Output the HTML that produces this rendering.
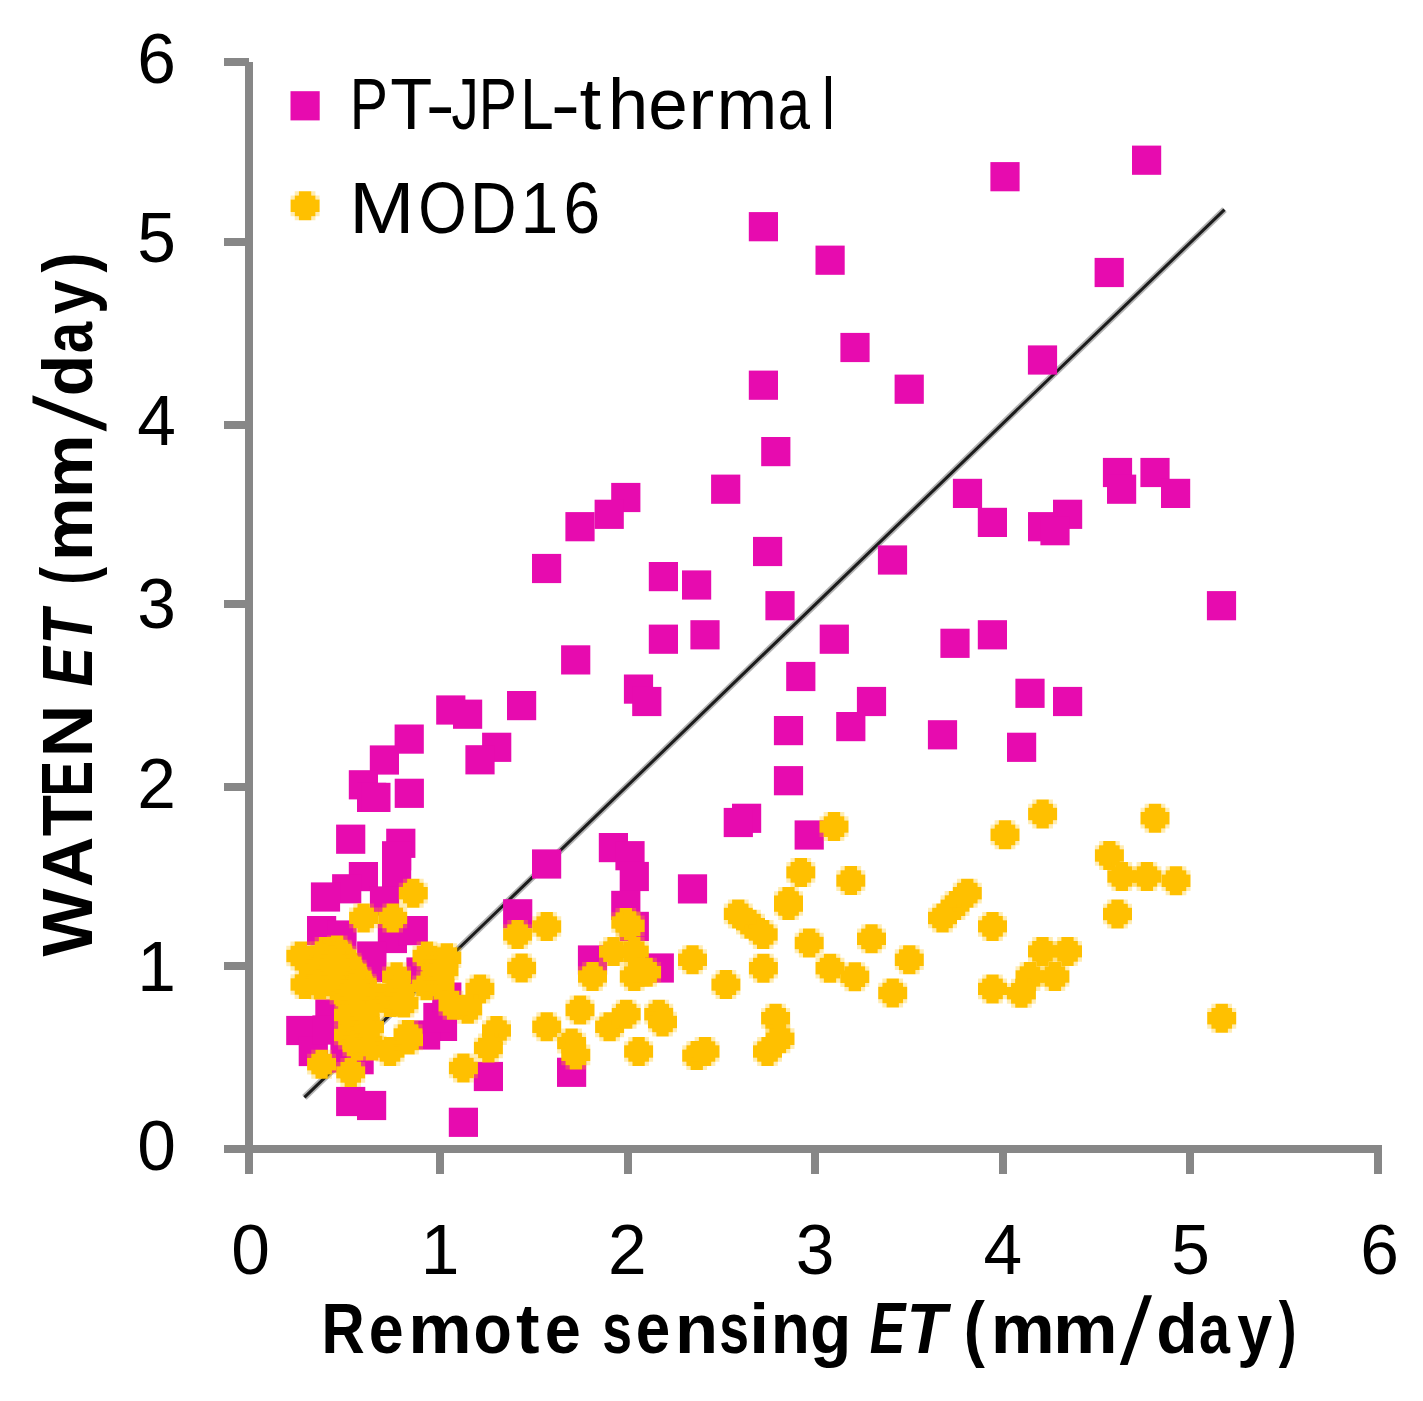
<!DOCTYPE html>
<html><head><meta charset="utf-8"><title>Scatter</title>
<style>
html,body{margin:0;padding:0;background:#fff;}
body{width:1423px;height:1401px;overflow:hidden;font-family:"Liberation Sans",sans-serif;}
svg{display:block;}
</style></head><body>
<svg width="1423" height="1401" viewBox="0 0 1423 1401">
<rect width="1423" height="1401" fill="#fff"/>
<g fill="#878787"><rect x="245" y="62" width="8" height="1091"/><rect x="224" y="1145" width="1158" height="8"/><rect x="224" y="962" width="25" height="8"/><rect x="224" y="783" width="25" height="8"/><rect x="224" y="600" width="25" height="8"/><rect x="224" y="421" width="25" height="8"/><rect x="224" y="238" width="25" height="8"/><rect x="224" y="58" width="25" height="8"/><rect x="245" y="1149" width="8" height="25"/><rect x="436" y="1149" width="8" height="25"/><rect x="624" y="1149" width="8" height="25"/><rect x="811" y="1149" width="8" height="25"/><rect x="999" y="1149" width="8" height="25"/><rect x="1186" y="1149" width="8" height="25"/><rect x="1374" y="1149" width="8" height="25"/></g>
<g><line x1="304.4" y1="1097.4" x2="1224.5" y2="209.6" stroke="#b4b4b4" stroke-width="6.5"/><line x1="304.4" y1="1097.4" x2="1224.5" y2="209.6" stroke="#1c1c1c" stroke-width="3"/></g>
<g fill="#E70BAF"><rect x="990.4" y="162.1" width="29.2" height="29.2"/><rect x="1132" y="145.6" width="29.2" height="29.2"/><rect x="748.8" y="212.1" width="29.2" height="29.2"/><rect x="815.5" y="245.6" width="29.2" height="29.2"/><rect x="1094.6" y="257.9" width="29.2" height="29.2"/><rect x="840.4" y="332.9" width="29.2" height="29.2"/><rect x="1027.9" y="345.4" width="29.2" height="29.2"/><rect x="748.8" y="370.6" width="29.2" height="29.2"/><rect x="894.6" y="374.6" width="29.2" height="29.2"/><rect x="761.2" y="437" width="29.2" height="29.2"/><rect x="711.1" y="474.6" width="29.2" height="29.2"/><rect x="952.9" y="478.8" width="29.2" height="29.2"/><rect x="1102.9" y="457.9" width="29.2" height="29.2"/><rect x="1107" y="474.6" width="29.2" height="29.2"/><rect x="1140.4" y="457.9" width="29.2" height="29.2"/><rect x="1161" y="478.8" width="29.2" height="29.2"/><rect x="1053" y="499.7" width="29.2" height="29.2"/><rect x="1028" y="512.1" width="29.2" height="29.2"/><rect x="1040.4" y="516.1" width="29.2" height="29.2"/><rect x="977.8" y="507.8" width="29.2" height="29.2"/><rect x="1206.9" y="591.1" width="29.2" height="29.2"/><rect x="977.8" y="620.2" width="29.2" height="29.2"/><rect x="1015.4" y="678.7" width="29.2" height="29.2"/><rect x="1053" y="686.9" width="29.2" height="29.2"/><rect x="753" y="536.9" width="29.2" height="29.2"/><rect x="877.9" y="545.4" width="29.2" height="29.2"/><rect x="682" y="570.4" width="29.2" height="29.2"/><rect x="765.4" y="591.1" width="29.2" height="29.2"/><rect x="690.4" y="620.2" width="29.2" height="29.2"/><rect x="819.7" y="624.6" width="29.2" height="29.2"/><rect x="940.4" y="628.7" width="29.2" height="29.2"/><rect x="786.2" y="661.9" width="29.2" height="29.2"/><rect x="856.9" y="686.9" width="29.2" height="29.2"/><rect x="611.2" y="482.9" width="29.2" height="29.2"/><rect x="594.6" y="499.7" width="29.2" height="29.2"/><rect x="565.4" y="512.1" width="29.2" height="29.2"/><rect x="532" y="553.9" width="29.2" height="29.2"/><rect x="648.8" y="562" width="29.2" height="29.2"/><rect x="648.8" y="624.6" width="29.2" height="29.2"/><rect x="561.1" y="645.3" width="29.2" height="29.2"/><rect x="623.9" y="674.5" width="29.2" height="29.2"/><rect x="632.2" y="686.9" width="29.2" height="29.2"/><rect x="507" y="691" width="29.2" height="29.2"/><rect x="436.2" y="695.4" width="29.2" height="29.2"/><rect x="453" y="699.6" width="29.2" height="29.2"/><rect x="394.6" y="724.5" width="29.2" height="29.2"/><rect x="482.1" y="732.7" width="29.2" height="29.2"/><rect x="465.4" y="745.2" width="29.2" height="29.2"/><rect x="369.8" y="745.4" width="29.2" height="29.2"/><rect x="348.8" y="770.2" width="29.2" height="29.2"/><rect x="357" y="782.8" width="29.2" height="29.2"/><rect x="361.3" y="782.8" width="29.2" height="29.2"/><rect x="394.7" y="778.7" width="29.2" height="29.2"/><rect x="336.1" y="824.6" width="29.2" height="29.2"/><rect x="386.2" y="828.7" width="29.2" height="29.2"/><rect x="382" y="841.2" width="29.2" height="29.2"/><rect x="382" y="858" width="29.2" height="29.2"/><rect x="348.8" y="862" width="29.2" height="29.2"/><rect x="332.1" y="874.2" width="29.2" height="29.2"/><rect x="310.9" y="882.4" width="29.2" height="29.2"/><rect x="307" y="916" width="29.2" height="29.2"/><rect x="327.4" y="920.4" width="29.2" height="29.2"/><rect x="377.8" y="923.9" width="29.2" height="29.2"/><rect x="398.7" y="916" width="29.2" height="29.2"/><rect x="357.1" y="952.9" width="29.2" height="29.2"/><rect x="532" y="849.4" width="29.2" height="29.2"/><rect x="598.8" y="833" width="29.2" height="29.2"/><rect x="615.4" y="841.1" width="29.2" height="29.2"/><rect x="619.7" y="861.9" width="29.2" height="29.2"/><rect x="611.2" y="890.8" width="29.2" height="29.2"/><rect x="619.7" y="911.8" width="29.2" height="29.2"/><rect x="677.9" y="874.3" width="29.2" height="29.2"/><rect x="503.1" y="899.2" width="29.2" height="29.2"/><rect x="577.9" y="945.4" width="29.2" height="29.2"/><rect x="644.7" y="953.4" width="29.2" height="29.2"/><rect x="836.2" y="712" width="29.2" height="29.2"/><rect x="773.9" y="716" width="29.2" height="29.2"/><rect x="927.9" y="720.2" width="29.2" height="29.2"/><rect x="773.9" y="766.1" width="29.2" height="29.2"/><rect x="732" y="803.7" width="29.2" height="29.2"/><rect x="723.7" y="807.9" width="29.2" height="29.2"/><rect x="794.6" y="820.4" width="29.2" height="29.2"/><rect x="1007" y="732.7" width="29.2" height="29.2"/><rect x="286.2" y="1015.9" width="29.2" height="29.2"/><rect x="315.3" y="999.3" width="29.2" height="29.2"/><rect x="298.7" y="1036.9" width="29.2" height="29.2"/><rect x="427.9" y="1011.8" width="29.2" height="29.2"/><rect x="411" y="1020.4" width="29.2" height="29.2"/><rect x="423.3" y="1002.9" width="29.2" height="29.2"/><rect x="344.5" y="1045.1" width="29.2" height="29.2"/><rect x="336.1" y="1086.9" width="29.2" height="29.2"/><rect x="357" y="1090.9" width="29.2" height="29.2"/><rect x="448.8" y="1107.7" width="29.2" height="29.2"/><rect x="473.8" y="1061.9" width="29.2" height="29.2"/><rect x="557" y="1057.7" width="29.2" height="29.2"/><rect x="432.2" y="982.5" width="29.2" height="29.2"/><rect x="406.4" y="957.4" width="29.2" height="29.2"/><rect x="330.4" y="1043.4" width="29.2" height="29.2"/><rect x="369.9" y="886.4" width="29.2" height="29.2"/><rect x="357.1" y="941.4" width="29.2" height="29.2"/><rect x="312.4" y="1015.4" width="29.2" height="29.2"/></g>
<g fill="#FFC000"><path d="M1036.39 799.5 1048.81 799.5 1048.81 803.64 1052.96 803.64 1052.96 807.79 1057.1 807.79 1057.1 820.21 1052.96 820.21 1052.96 824.36 1048.81 824.36 1048.81 828.5 1036.39 828.5 1036.39 824.36 1032.24 824.36 1032.24 820.21 1028.1 820.21 1028.1 807.79 1032.24 807.79 1032.24 803.64 1036.39 803.64Z"/><path d="M1032.24 799.5h4.14v4.14h-4.14ZM1048.81 799.5h4.14v4.14h-4.14ZM1028.1 803.64h4.14v4.14h-4.14ZM1052.96 803.64h4.14v4.14h-4.14ZM1028.1 820.21h4.14v4.14h-4.14ZM1052.96 820.21h4.14v4.14h-4.14ZM1032.24 824.36h4.14v4.14h-4.14ZM1048.81 824.36h4.14v4.14h-4.14Z" fill-opacity="0.3"/><path d="M1148.79 803.7 1161.21 803.7 1161.21 807.84 1165.36 807.84 1165.36 811.99 1169.5 811.99 1169.5 824.41 1165.36 824.41 1165.36 828.56 1161.21 828.56 1161.21 832.7 1148.79 832.7 1148.79 828.56 1144.64 828.56 1144.64 824.41 1140.5 824.41 1140.5 811.99 1144.64 811.99 1144.64 807.84 1148.79 807.84Z"/><path d="M1144.64 803.7h4.14v4.14h-4.14ZM1161.21 803.7h4.14v4.14h-4.14ZM1140.5 807.84h4.14v4.14h-4.14ZM1165.36 807.84h4.14v4.14h-4.14ZM1140.5 824.41h4.14v4.14h-4.14ZM1165.36 824.41h4.14v4.14h-4.14ZM1144.64 828.56h4.14v4.14h-4.14ZM1161.21 828.56h4.14v4.14h-4.14Z" fill-opacity="0.3"/><path d="M948.79 891.1 961.21 891.1 961.21 895.24 965.36 895.24 965.36 899.39 969.5 899.39 969.5 911.81 965.36 911.81 965.36 915.96 961.21 915.96 961.21 920.1 948.79 920.1 948.79 915.96 944.64 915.96 944.64 911.81 940.5 911.81 940.5 899.39 944.64 899.39 944.64 895.24 948.79 895.24Z"/><path d="M944.64 891.1h4.14v4.14h-4.14ZM961.21 891.1h4.14v4.14h-4.14ZM940.5 895.24h4.14v4.14h-4.14ZM965.36 895.24h4.14v4.14h-4.14ZM940.5 911.81h4.14v4.14h-4.14ZM965.36 911.81h4.14v4.14h-4.14ZM944.64 915.96h4.14v4.14h-4.14ZM961.21 915.96h4.14v4.14h-4.14Z" fill-opacity="0.3"/><path d="M744.29 909.7 756.71 909.7 756.71 913.84 760.86 913.84 760.86 917.99 765 917.99 765 930.41 760.86 930.41 760.86 934.56 756.71 934.56 756.71 938.7 744.29 938.7 744.29 934.56 740.14 934.56 740.14 930.41 736 930.41 736 917.99 740.14 917.99 740.14 913.84 744.29 913.84Z"/><path d="M740.14 909.7h4.14v4.14h-4.14ZM756.71 909.7h4.14v4.14h-4.14ZM736 913.84h4.14v4.14h-4.14ZM760.86 913.84h4.14v4.14h-4.14ZM736 930.41h4.14v4.14h-4.14ZM760.86 930.41h4.14v4.14h-4.14ZM740.14 934.56h4.14v4.14h-4.14ZM756.71 934.56h4.14v4.14h-4.14Z" fill-opacity="0.3"/><path d="M998.79 820.3 1011.21 820.3 1011.21 824.44 1015.36 824.44 1015.36 828.59 1019.5 828.59 1019.5 841.01 1015.36 841.01 1015.36 845.16 1011.21 845.16 1011.21 849.3 998.79 849.3 998.79 845.16 994.64 845.16 994.64 841.01 990.5 841.01 990.5 828.59 994.64 828.59 994.64 824.44 998.79 824.44Z"/><path d="M994.64 820.3h4.14v4.14h-4.14ZM1011.21 820.3h4.14v4.14h-4.14ZM990.5 824.44h4.14v4.14h-4.14ZM1015.36 824.44h4.14v4.14h-4.14ZM990.5 841.01h4.14v4.14h-4.14ZM1015.36 841.01h4.14v4.14h-4.14ZM994.64 845.16h4.14v4.14h-4.14ZM1011.21 845.16h4.14v4.14h-4.14Z" fill-opacity="0.3"/><path d="M1103.19 841 1115.61 841 1115.61 845.14 1119.76 845.14 1119.76 849.29 1123.9 849.29 1123.9 861.71 1119.76 861.71 1119.76 865.86 1115.61 865.86 1115.61 870 1103.19 870 1103.19 865.86 1099.04 865.86 1099.04 861.71 1094.9 861.71 1094.9 849.29 1099.04 849.29 1099.04 845.14 1103.19 845.14Z"/><path d="M1099.04 841h4.14v4.14h-4.14ZM1115.61 841h4.14v4.14h-4.14ZM1094.9 845.14h4.14v4.14h-4.14ZM1119.76 845.14h4.14v4.14h-4.14ZM1094.9 861.71h4.14v4.14h-4.14ZM1119.76 861.71h4.14v4.14h-4.14ZM1099.04 865.86h4.14v4.14h-4.14ZM1115.61 865.86h4.14v4.14h-4.14Z" fill-opacity="0.3"/><path d="M1115.59 862 1128.01 862 1128.01 866.14 1132.16 866.14 1132.16 870.29 1136.3 870.29 1136.3 882.71 1132.16 882.71 1132.16 886.86 1128.01 886.86 1128.01 891 1115.59 891 1115.59 886.86 1111.44 886.86 1111.44 882.71 1107.3 882.71 1107.3 870.29 1111.44 870.29 1111.44 866.14 1115.59 866.14Z"/><path d="M1111.44 862h4.14v4.14h-4.14ZM1128.01 862h4.14v4.14h-4.14ZM1107.3 866.14h4.14v4.14h-4.14ZM1132.16 866.14h4.14v4.14h-4.14ZM1107.3 882.71h4.14v4.14h-4.14ZM1132.16 882.71h4.14v4.14h-4.14ZM1111.44 886.86h4.14v4.14h-4.14ZM1128.01 886.86h4.14v4.14h-4.14Z" fill-opacity="0.3"/><path d="M1140.69 862 1153.11 862 1153.11 866.14 1157.26 866.14 1157.26 870.29 1161.4 870.29 1161.4 882.71 1157.26 882.71 1157.26 886.86 1153.11 886.86 1153.11 891 1140.69 891 1140.69 886.86 1136.54 886.86 1136.54 882.71 1132.4 882.71 1132.4 870.29 1136.54 870.29 1136.54 866.14 1140.69 866.14Z"/><path d="M1136.54 862h4.14v4.14h-4.14ZM1153.11 862h4.14v4.14h-4.14ZM1132.4 866.14h4.14v4.14h-4.14ZM1157.26 866.14h4.14v4.14h-4.14ZM1132.4 882.71h4.14v4.14h-4.14ZM1157.26 882.71h4.14v4.14h-4.14ZM1136.54 886.86h4.14v4.14h-4.14ZM1153.11 886.86h4.14v4.14h-4.14Z" fill-opacity="0.3"/><path d="M1169.79 866.2 1182.21 866.2 1182.21 870.34 1186.36 870.34 1186.36 874.49 1190.5 874.49 1190.5 886.91 1186.36 886.91 1186.36 891.06 1182.21 891.06 1182.21 895.2 1169.79 895.2 1169.79 891.06 1165.64 891.06 1165.64 886.91 1161.5 886.91 1161.5 874.49 1165.64 874.49 1165.64 870.34 1169.79 870.34Z"/><path d="M1165.64 866.2h4.14v4.14h-4.14ZM1182.21 866.2h4.14v4.14h-4.14ZM1161.5 870.34h4.14v4.14h-4.14ZM1186.36 870.34h4.14v4.14h-4.14ZM1161.5 886.91h4.14v4.14h-4.14ZM1186.36 886.91h4.14v4.14h-4.14ZM1165.64 891.06h4.14v4.14h-4.14ZM1182.21 891.06h4.14v4.14h-4.14Z" fill-opacity="0.3"/><path d="M961.09 878.7 973.51 878.7 973.51 882.84 977.66 882.84 977.66 886.99 981.8 886.99 981.8 899.41 977.66 899.41 977.66 903.56 973.51 903.56 973.51 907.7 961.09 907.7 961.09 903.56 956.94 903.56 956.94 899.41 952.8 899.41 952.8 886.99 956.94 886.99 956.94 882.84 961.09 882.84Z"/><path d="M956.94 878.7h4.14v4.14h-4.14ZM973.51 878.7h4.14v4.14h-4.14ZM952.8 882.84h4.14v4.14h-4.14ZM977.66 882.84h4.14v4.14h-4.14ZM952.8 899.41h4.14v4.14h-4.14ZM977.66 899.41h4.14v4.14h-4.14ZM956.94 903.56h4.14v4.14h-4.14ZM973.51 903.56h4.14v4.14h-4.14Z" fill-opacity="0.3"/><path d="M936.29 903.5 948.71 903.5 948.71 907.64 952.86 907.64 952.86 911.79 957 911.79 957 924.21 952.86 924.21 952.86 928.36 948.71 928.36 948.71 932.5 936.29 932.5 936.29 928.36 932.14 928.36 932.14 924.21 928 924.21 928 911.79 932.14 911.79 932.14 907.64 936.29 907.64Z"/><path d="M932.14 903.5h4.14v4.14h-4.14ZM948.71 903.5h4.14v4.14h-4.14ZM928 907.64h4.14v4.14h-4.14ZM952.86 907.64h4.14v4.14h-4.14ZM928 924.21h4.14v4.14h-4.14ZM952.86 924.21h4.14v4.14h-4.14ZM932.14 928.36h4.14v4.14h-4.14ZM948.71 928.36h4.14v4.14h-4.14Z" fill-opacity="0.3"/><path d="M1111.29 899.5 1123.71 899.5 1123.71 903.64 1127.86 903.64 1127.86 907.79 1132 907.79 1132 920.21 1127.86 920.21 1127.86 924.36 1123.71 924.36 1123.71 928.5 1111.29 928.5 1111.29 924.36 1107.14 924.36 1107.14 920.21 1103 920.21 1103 907.79 1107.14 907.79 1107.14 903.64 1111.29 903.64Z"/><path d="M1107.14 899.5h4.14v4.14h-4.14ZM1123.71 899.5h4.14v4.14h-4.14ZM1103 903.64h4.14v4.14h-4.14ZM1127.86 903.64h4.14v4.14h-4.14ZM1103 920.21h4.14v4.14h-4.14ZM1127.86 920.21h4.14v4.14h-4.14ZM1107.14 924.36h4.14v4.14h-4.14ZM1123.71 924.36h4.14v4.14h-4.14Z" fill-opacity="0.3"/><path d="M986.29 911.9 998.71 911.9 998.71 916.04 1002.86 916.04 1002.86 920.19 1007 920.19 1007 932.61 1002.86 932.61 1002.86 936.76 998.71 936.76 998.71 940.9 986.29 940.9 986.29 936.76 982.14 936.76 982.14 932.61 978 932.61 978 920.19 982.14 920.19 982.14 916.04 986.29 916.04Z"/><path d="M982.14 911.9h4.14v4.14h-4.14ZM998.71 911.9h4.14v4.14h-4.14ZM978 916.04h4.14v4.14h-4.14ZM1002.86 916.04h4.14v4.14h-4.14ZM978 932.61h4.14v4.14h-4.14ZM1002.86 932.61h4.14v4.14h-4.14ZM982.14 936.76h4.14v4.14h-4.14ZM998.71 936.76h4.14v4.14h-4.14Z" fill-opacity="0.3"/><path d="M1036.29 936.9 1048.71 936.9 1048.71 941.04 1052.86 941.04 1052.86 945.19 1057 945.19 1057 957.61 1052.86 957.61 1052.86 961.76 1048.71 961.76 1048.71 965.9 1036.29 965.9 1036.29 961.76 1032.14 961.76 1032.14 957.61 1028 957.61 1028 945.19 1032.14 945.19 1032.14 941.04 1036.29 941.04Z"/><path d="M1032.14 936.9h4.14v4.14h-4.14ZM1048.71 936.9h4.14v4.14h-4.14ZM1028 941.04h4.14v4.14h-4.14ZM1052.86 941.04h4.14v4.14h-4.14ZM1028 957.61h4.14v4.14h-4.14ZM1052.86 957.61h4.14v4.14h-4.14ZM1032.14 961.76h4.14v4.14h-4.14ZM1048.71 961.76h4.14v4.14h-4.14Z" fill-opacity="0.3"/><path d="M1061.29 936.9 1073.71 936.9 1073.71 941.04 1077.86 941.04 1077.86 945.19 1082 945.19 1082 957.61 1077.86 957.61 1077.86 961.76 1073.71 961.76 1073.71 965.9 1061.29 965.9 1061.29 961.76 1057.14 961.76 1057.14 957.61 1053 957.61 1053 945.19 1057.14 945.19 1057.14 941.04 1061.29 941.04Z"/><path d="M1057.14 936.9h4.14v4.14h-4.14ZM1073.71 936.9h4.14v4.14h-4.14ZM1053 941.04h4.14v4.14h-4.14ZM1077.86 941.04h4.14v4.14h-4.14ZM1053 957.61h4.14v4.14h-4.14ZM1077.86 957.61h4.14v4.14h-4.14ZM1057.14 961.76h4.14v4.14h-4.14ZM1073.71 961.76h4.14v4.14h-4.14Z" fill-opacity="0.3"/><path d="M1023.79 962 1036.21 962 1036.21 966.14 1040.36 966.14 1040.36 970.29 1044.5 970.29 1044.5 982.71 1040.36 982.71 1040.36 986.86 1036.21 986.86 1036.21 991 1023.79 991 1023.79 986.86 1019.64 986.86 1019.64 982.71 1015.5 982.71 1015.5 970.29 1019.64 970.29 1019.64 966.14 1023.79 966.14Z"/><path d="M1019.64 962h4.14v4.14h-4.14ZM1036.21 962h4.14v4.14h-4.14ZM1015.5 966.14h4.14v4.14h-4.14ZM1040.36 966.14h4.14v4.14h-4.14ZM1015.5 982.71h4.14v4.14h-4.14ZM1040.36 982.71h4.14v4.14h-4.14ZM1019.64 986.86h4.14v4.14h-4.14ZM1036.21 986.86h4.14v4.14h-4.14Z" fill-opacity="0.3"/><path d="M1048.69 962 1061.11 962 1061.11 966.14 1065.26 966.14 1065.26 970.29 1069.4 970.29 1069.4 982.71 1065.26 982.71 1065.26 986.86 1061.11 986.86 1061.11 991 1048.69 991 1048.69 986.86 1044.54 986.86 1044.54 982.71 1040.4 982.71 1040.4 970.29 1044.54 970.29 1044.54 966.14 1048.69 966.14Z"/><path d="M1044.54 962h4.14v4.14h-4.14ZM1061.11 962h4.14v4.14h-4.14ZM1040.4 966.14h4.14v4.14h-4.14ZM1065.26 966.14h4.14v4.14h-4.14ZM1040.4 982.71h4.14v4.14h-4.14ZM1065.26 982.71h4.14v4.14h-4.14ZM1044.54 986.86h4.14v4.14h-4.14ZM1061.11 986.86h4.14v4.14h-4.14Z" fill-opacity="0.3"/><path d="M986.29 974.4 998.71 974.4 998.71 978.54 1002.86 978.54 1002.86 982.69 1007 982.69 1007 995.11 1002.86 995.11 1002.86 999.26 998.71 999.26 998.71 1003.4 986.29 1003.4 986.29 999.26 982.14 999.26 982.14 995.11 978 995.11 978 982.69 982.14 982.69 982.14 978.54 986.29 978.54Z"/><path d="M982.14 974.4h4.14v4.14h-4.14ZM998.71 974.4h4.14v4.14h-4.14ZM978 978.54h4.14v4.14h-4.14ZM1002.86 978.54h4.14v4.14h-4.14ZM978 995.11h4.14v4.14h-4.14ZM1002.86 995.11h4.14v4.14h-4.14ZM982.14 999.26h4.14v4.14h-4.14ZM998.71 999.26h4.14v4.14h-4.14Z" fill-opacity="0.3"/><path d="M1015.19 978.8 1027.61 978.8 1027.61 982.94 1031.76 982.94 1031.76 987.09 1035.9 987.09 1035.9 999.51 1031.76 999.51 1031.76 1003.66 1027.61 1003.66 1027.61 1007.8 1015.19 1007.8 1015.19 1003.66 1011.04 1003.66 1011.04 999.51 1006.9 999.51 1006.9 987.09 1011.04 987.09 1011.04 982.94 1015.19 982.94Z"/><path d="M1011.04 978.8h4.14v4.14h-4.14ZM1027.61 978.8h4.14v4.14h-4.14ZM1006.9 982.94h4.14v4.14h-4.14ZM1031.76 982.94h4.14v4.14h-4.14ZM1006.9 999.51h4.14v4.14h-4.14ZM1031.76 999.51h4.14v4.14h-4.14ZM1011.04 1003.66h4.14v4.14h-4.14ZM1027.61 1003.66h4.14v4.14h-4.14Z" fill-opacity="0.3"/><path d="M1215.49 1003.8 1227.91 1003.8 1227.91 1007.94 1232.06 1007.94 1232.06 1012.09 1236.2 1012.09 1236.2 1024.51 1232.06 1024.51 1232.06 1028.66 1227.91 1028.66 1227.91 1032.8 1215.49 1032.8 1215.49 1028.66 1211.34 1028.66 1211.34 1024.51 1207.2 1024.51 1207.2 1012.09 1211.34 1012.09 1211.34 1007.94 1215.49 1007.94Z"/><path d="M1211.34 1003.8h4.14v4.14h-4.14ZM1227.91 1003.8h4.14v4.14h-4.14ZM1207.2 1007.94h4.14v4.14h-4.14ZM1232.06 1007.94h4.14v4.14h-4.14ZM1207.2 1024.51h4.14v4.14h-4.14ZM1232.06 1024.51h4.14v4.14h-4.14ZM1211.34 1028.66h4.14v4.14h-4.14ZM1227.91 1028.66h4.14v4.14h-4.14Z" fill-opacity="0.3"/><path d="M827.79 812.1 840.21 812.1 840.21 816.24 844.36 816.24 844.36 820.39 848.5 820.39 848.5 832.81 844.36 832.81 844.36 836.96 840.21 836.96 840.21 841.1 827.79 841.1 827.79 836.96 823.64 836.96 823.64 832.81 819.5 832.81 819.5 820.39 823.64 820.39 823.64 816.24 827.79 816.24Z"/><path d="M823.64 812.1h4.14v4.14h-4.14ZM840.21 812.1h4.14v4.14h-4.14ZM819.5 816.24h4.14v4.14h-4.14ZM844.36 816.24h4.14v4.14h-4.14ZM819.5 832.81h4.14v4.14h-4.14ZM844.36 832.81h4.14v4.14h-4.14ZM823.64 836.96h4.14v4.14h-4.14ZM840.21 836.96h4.14v4.14h-4.14Z" fill-opacity="0.3"/><path d="M794.59 857.9 807.01 857.9 807.01 862.04 811.16 862.04 811.16 866.19 815.3 866.19 815.3 878.61 811.16 878.61 811.16 882.76 807.01 882.76 807.01 886.9 794.59 886.9 794.59 882.76 790.44 882.76 790.44 878.61 786.3 878.61 786.3 866.19 790.44 866.19 790.44 862.04 794.59 862.04Z"/><path d="M790.44 857.9h4.14v4.14h-4.14ZM807.01 857.9h4.14v4.14h-4.14ZM786.3 862.04h4.14v4.14h-4.14ZM811.16 862.04h4.14v4.14h-4.14ZM786.3 878.61h4.14v4.14h-4.14ZM811.16 878.61h4.14v4.14h-4.14ZM790.44 882.76h4.14v4.14h-4.14ZM807.01 882.76h4.14v4.14h-4.14Z" fill-opacity="0.3"/><path d="M844.59 866.1 857.01 866.1 857.01 870.24 861.16 870.24 861.16 874.39 865.3 874.39 865.3 886.81 861.16 886.81 861.16 890.96 857.01 890.96 857.01 895.1 844.59 895.1 844.59 890.96 840.44 890.96 840.44 886.81 836.3 886.81 836.3 874.39 840.44 874.39 840.44 870.24 844.59 870.24Z"/><path d="M840.44 866.1h4.14v4.14h-4.14ZM857.01 866.1h4.14v4.14h-4.14ZM836.3 870.24h4.14v4.14h-4.14ZM861.16 870.24h4.14v4.14h-4.14ZM836.3 886.81h4.14v4.14h-4.14ZM861.16 886.81h4.14v4.14h-4.14ZM840.44 890.96h4.14v4.14h-4.14ZM857.01 890.96h4.14v4.14h-4.14Z" fill-opacity="0.3"/><path d="M782.29 887.1 794.71 887.1 794.71 891.24 798.86 891.24 798.86 895.39 803 895.39 803 907.81 798.86 907.81 798.86 911.96 794.71 911.96 794.71 916.1 782.29 916.1 782.29 911.96 778.14 911.96 778.14 907.81 774 907.81 774 895.39 778.14 895.39 778.14 891.24 782.29 891.24Z"/><path d="M778.14 887.1h4.14v4.14h-4.14ZM794.71 887.1h4.14v4.14h-4.14ZM774 891.24h4.14v4.14h-4.14ZM798.86 891.24h4.14v4.14h-4.14ZM774 907.81h4.14v4.14h-4.14ZM798.86 907.81h4.14v4.14h-4.14ZM778.14 911.96h4.14v4.14h-4.14ZM794.71 911.96h4.14v4.14h-4.14Z" fill-opacity="0.3"/><path d="M782.29 891 794.71 891 794.71 895.14 798.86 895.14 798.86 899.29 803 899.29 803 911.71 798.86 911.71 798.86 915.86 794.71 915.86 794.71 920 782.29 920 782.29 915.86 778.14 915.86 778.14 911.71 774 911.71 774 899.29 778.14 899.29 778.14 895.14 782.29 895.14Z"/><path d="M778.14 891h4.14v4.14h-4.14ZM794.71 891h4.14v4.14h-4.14ZM774 895.14h4.14v4.14h-4.14ZM798.86 895.14h4.14v4.14h-4.14ZM774 911.71h4.14v4.14h-4.14ZM798.86 911.71h4.14v4.14h-4.14ZM778.14 915.86h4.14v4.14h-4.14ZM794.71 915.86h4.14v4.14h-4.14Z" fill-opacity="0.3"/><path d="M732.09 899.4 744.51 899.4 744.51 903.54 748.66 903.54 748.66 907.69 752.8 907.69 752.8 920.11 748.66 920.11 748.66 924.26 744.51 924.26 744.51 928.4 732.09 928.4 732.09 924.26 727.94 924.26 727.94 920.11 723.8 920.11 723.8 907.69 727.94 907.69 727.94 903.54 732.09 903.54Z"/><path d="M727.94 899.4h4.14v4.14h-4.14ZM744.51 899.4h4.14v4.14h-4.14ZM723.8 903.54h4.14v4.14h-4.14ZM748.66 903.54h4.14v4.14h-4.14ZM723.8 920.11h4.14v4.14h-4.14ZM748.66 920.11h4.14v4.14h-4.14ZM727.94 924.26h4.14v4.14h-4.14ZM744.51 924.26h4.14v4.14h-4.14Z" fill-opacity="0.3"/><path d="M756.99 920 769.41 920 769.41 924.14 773.56 924.14 773.56 928.29 777.7 928.29 777.7 940.71 773.56 940.71 773.56 944.86 769.41 944.86 769.41 949 756.99 949 756.99 944.86 752.84 944.86 752.84 940.71 748.7 940.71 748.7 928.29 752.84 928.29 752.84 924.14 756.99 924.14Z"/><path d="M752.84 920h4.14v4.14h-4.14ZM769.41 920h4.14v4.14h-4.14ZM748.7 924.14h4.14v4.14h-4.14ZM773.56 924.14h4.14v4.14h-4.14ZM748.7 940.71h4.14v4.14h-4.14ZM773.56 940.71h4.14v4.14h-4.14ZM752.84 944.86h4.14v4.14h-4.14ZM769.41 944.86h4.14v4.14h-4.14Z" fill-opacity="0.3"/><path d="M802.99 928.5 815.41 928.5 815.41 932.64 819.56 932.64 819.56 936.79 823.7 936.79 823.7 949.21 819.56 949.21 819.56 953.36 815.41 953.36 815.41 957.5 802.99 957.5 802.99 953.36 798.84 953.36 798.84 949.21 794.7 949.21 794.7 936.79 798.84 936.79 798.84 932.64 802.99 932.64Z"/><path d="M798.84 928.5h4.14v4.14h-4.14ZM815.41 928.5h4.14v4.14h-4.14ZM794.7 932.64h4.14v4.14h-4.14ZM819.56 932.64h4.14v4.14h-4.14ZM794.7 949.21h4.14v4.14h-4.14ZM819.56 949.21h4.14v4.14h-4.14ZM798.84 953.36h4.14v4.14h-4.14ZM815.41 953.36h4.14v4.14h-4.14Z" fill-opacity="0.3"/><path d="M865.29 924.3 877.71 924.3 877.71 928.44 881.86 928.44 881.86 932.59 886 932.59 886 945.01 881.86 945.01 881.86 949.16 877.71 949.16 877.71 953.3 865.29 953.3 865.29 949.16 861.14 949.16 861.14 945.01 857 945.01 857 932.59 861.14 932.59 861.14 928.44 865.29 928.44Z"/><path d="M861.14 924.3h4.14v4.14h-4.14ZM877.71 924.3h4.14v4.14h-4.14ZM857 928.44h4.14v4.14h-4.14ZM881.86 928.44h4.14v4.14h-4.14ZM857 945.01h4.14v4.14h-4.14ZM881.86 945.01h4.14v4.14h-4.14ZM861.14 949.16h4.14v4.14h-4.14ZM877.71 949.16h4.14v4.14h-4.14Z" fill-opacity="0.3"/><path d="M686.29 945.2 698.71 945.2 698.71 949.34 702.86 949.34 702.86 953.49 707 953.49 707 965.91 702.86 965.91 702.86 970.06 698.71 970.06 698.71 974.2 686.29 974.2 686.29 970.06 682.14 970.06 682.14 965.91 678 965.91 678 953.49 682.14 953.49 682.14 949.34 686.29 949.34Z"/><path d="M682.14 945.2h4.14v4.14h-4.14ZM698.71 945.2h4.14v4.14h-4.14ZM678 949.34h4.14v4.14h-4.14ZM702.86 949.34h4.14v4.14h-4.14ZM678 965.91h4.14v4.14h-4.14ZM702.86 965.91h4.14v4.14h-4.14ZM682.14 970.06h4.14v4.14h-4.14ZM698.71 970.06h4.14v4.14h-4.14Z" fill-opacity="0.3"/><path d="M757.19 953.7 769.61 953.7 769.61 957.84 773.76 957.84 773.76 961.99 777.9 961.99 777.9 974.41 773.76 974.41 773.76 978.56 769.61 978.56 769.61 982.7 757.19 982.7 757.19 978.56 753.04 978.56 753.04 974.41 748.9 974.41 748.9 961.99 753.04 961.99 753.04 957.84 757.19 957.84Z"/><path d="M753.04 953.7h4.14v4.14h-4.14ZM769.61 953.7h4.14v4.14h-4.14ZM748.9 957.84h4.14v4.14h-4.14ZM773.76 957.84h4.14v4.14h-4.14ZM748.9 974.41h4.14v4.14h-4.14ZM773.76 974.41h4.14v4.14h-4.14ZM753.04 978.56h4.14v4.14h-4.14ZM769.61 978.56h4.14v4.14h-4.14Z" fill-opacity="0.3"/><path d="M719.69 970.1 732.11 970.1 732.11 974.24 736.26 974.24 736.26 978.39 740.4 978.39 740.4 990.81 736.26 990.81 736.26 994.96 732.11 994.96 732.11 999.1 719.69 999.1 719.69 994.96 715.54 994.96 715.54 990.81 711.4 990.81 711.4 978.39 715.54 978.39 715.54 974.24 719.69 974.24Z"/><path d="M715.54 970.1h4.14v4.14h-4.14ZM732.11 970.1h4.14v4.14h-4.14ZM711.4 974.24h4.14v4.14h-4.14ZM736.26 974.24h4.14v4.14h-4.14ZM711.4 990.81h4.14v4.14h-4.14ZM736.26 990.81h4.14v4.14h-4.14ZM715.54 994.96h4.14v4.14h-4.14ZM732.11 994.96h4.14v4.14h-4.14Z" fill-opacity="0.3"/><path d="M823.79 953.7 836.21 953.7 836.21 957.84 840.36 957.84 840.36 961.99 844.5 961.99 844.5 974.41 840.36 974.41 840.36 978.56 836.21 978.56 836.21 982.7 823.79 982.7 823.79 978.56 819.64 978.56 819.64 974.41 815.5 974.41 815.5 961.99 819.64 961.99 819.64 957.84 823.79 957.84Z"/><path d="M819.64 953.7h4.14v4.14h-4.14ZM836.21 953.7h4.14v4.14h-4.14ZM815.5 957.84h4.14v4.14h-4.14ZM840.36 957.84h4.14v4.14h-4.14ZM815.5 974.41h4.14v4.14h-4.14ZM840.36 974.41h4.14v4.14h-4.14ZM819.64 978.56h4.14v4.14h-4.14ZM836.21 978.56h4.14v4.14h-4.14Z" fill-opacity="0.3"/><path d="M848.59 962.2 861.01 962.2 861.01 966.34 865.16 966.34 865.16 970.49 869.3 970.49 869.3 982.91 865.16 982.91 865.16 987.06 861.01 987.06 861.01 991.2 848.59 991.2 848.59 987.06 844.44 987.06 844.44 982.91 840.3 982.91 840.3 970.49 844.44 970.49 844.44 966.34 848.59 966.34Z"/><path d="M844.44 962.2h4.14v4.14h-4.14ZM861.01 962.2h4.14v4.14h-4.14ZM840.3 966.34h4.14v4.14h-4.14ZM865.16 966.34h4.14v4.14h-4.14ZM840.3 982.91h4.14v4.14h-4.14ZM865.16 982.91h4.14v4.14h-4.14ZM844.44 987.06h4.14v4.14h-4.14ZM861.01 987.06h4.14v4.14h-4.14Z" fill-opacity="0.3"/><path d="M903.09 945.2 915.51 945.2 915.51 949.34 919.66 949.34 919.66 953.49 923.8 953.49 923.8 965.91 919.66 965.91 919.66 970.06 915.51 970.06 915.51 974.2 903.09 974.2 903.09 970.06 898.94 970.06 898.94 965.91 894.8 965.91 894.8 953.49 898.94 953.49 898.94 949.34 903.09 949.34Z"/><path d="M898.94 945.2h4.14v4.14h-4.14ZM915.51 945.2h4.14v4.14h-4.14ZM894.8 949.34h4.14v4.14h-4.14ZM919.66 949.34h4.14v4.14h-4.14ZM894.8 965.91h4.14v4.14h-4.14ZM919.66 965.91h4.14v4.14h-4.14ZM898.94 970.06h4.14v4.14h-4.14ZM915.51 970.06h4.14v4.14h-4.14Z" fill-opacity="0.3"/><path d="M886.49 978.5 898.91 978.5 898.91 982.64 903.06 982.64 903.06 986.79 907.2 986.79 907.2 999.21 903.06 999.21 903.06 1003.36 898.91 1003.36 898.91 1007.5 886.49 1007.5 886.49 1003.36 882.34 1003.36 882.34 999.21 878.2 999.21 878.2 986.79 882.34 986.79 882.34 982.64 886.49 982.64Z"/><path d="M882.34 978.5h4.14v4.14h-4.14ZM898.91 978.5h4.14v4.14h-4.14ZM878.2 982.64h4.14v4.14h-4.14ZM903.06 982.64h4.14v4.14h-4.14ZM878.2 999.21h4.14v4.14h-4.14ZM903.06 999.21h4.14v4.14h-4.14ZM882.34 1003.36h4.14v4.14h-4.14ZM898.91 1003.36h4.14v4.14h-4.14Z" fill-opacity="0.3"/><path d="M769.39 1003.8 781.81 1003.8 781.81 1007.94 785.96 1007.94 785.96 1012.09 790.1 1012.09 790.1 1024.51 785.96 1024.51 785.96 1028.66 781.81 1028.66 781.81 1032.8 769.39 1032.8 769.39 1028.66 765.24 1028.66 765.24 1024.51 761.1 1024.51 761.1 1012.09 765.24 1012.09 765.24 1007.94 769.39 1007.94Z"/><path d="M765.24 1003.8h4.14v4.14h-4.14ZM781.81 1003.8h4.14v4.14h-4.14ZM761.1 1007.94h4.14v4.14h-4.14ZM785.96 1007.94h4.14v4.14h-4.14ZM761.1 1024.51h4.14v4.14h-4.14ZM785.96 1024.51h4.14v4.14h-4.14ZM765.24 1028.66h4.14v4.14h-4.14ZM781.81 1028.66h4.14v4.14h-4.14Z" fill-opacity="0.3"/><path d="M761.29 1037 773.71 1037 773.71 1041.14 777.86 1041.14 777.86 1045.29 782 1045.29 782 1057.71 777.86 1057.71 777.86 1061.86 773.71 1061.86 773.71 1066 761.29 1066 761.29 1061.86 757.14 1061.86 757.14 1057.71 753 1057.71 753 1045.29 757.14 1045.29 757.14 1041.14 761.29 1041.14Z"/><path d="M757.14 1037h4.14v4.14h-4.14ZM773.71 1037h4.14v4.14h-4.14ZM753 1041.14h4.14v4.14h-4.14ZM777.86 1041.14h4.14v4.14h-4.14ZM753 1057.71h4.14v4.14h-4.14ZM777.86 1057.71h4.14v4.14h-4.14ZM757.14 1061.86h4.14v4.14h-4.14ZM773.71 1061.86h4.14v4.14h-4.14Z" fill-opacity="0.3"/><path d="M773.79 1024.2 786.21 1024.2 786.21 1028.34 790.36 1028.34 790.36 1032.49 794.5 1032.49 794.5 1044.91 790.36 1044.91 790.36 1049.06 786.21 1049.06 786.21 1053.2 773.79 1053.2 773.79 1049.06 769.64 1049.06 769.64 1044.91 765.5 1044.91 765.5 1032.49 769.64 1032.49 769.64 1028.34 773.79 1028.34Z"/><path d="M769.64 1024.2h4.14v4.14h-4.14ZM786.21 1024.2h4.14v4.14h-4.14ZM765.5 1028.34h4.14v4.14h-4.14ZM790.36 1028.34h4.14v4.14h-4.14ZM765.5 1044.91h4.14v4.14h-4.14ZM790.36 1044.91h4.14v4.14h-4.14ZM769.64 1049.06h4.14v4.14h-4.14ZM786.21 1049.06h4.14v4.14h-4.14Z" fill-opacity="0.3"/><path d="M690.49 1041.1 702.91 1041.1 702.91 1045.24 707.06 1045.24 707.06 1049.39 711.2 1049.39 711.2 1061.81 707.06 1061.81 707.06 1065.96 702.91 1065.96 702.91 1070.1 690.49 1070.1 690.49 1065.96 686.34 1065.96 686.34 1061.81 682.2 1061.81 682.2 1049.39 686.34 1049.39 686.34 1045.24 690.49 1045.24Z"/><path d="M686.34 1041.1h4.14v4.14h-4.14ZM702.91 1041.1h4.14v4.14h-4.14ZM682.2 1045.24h4.14v4.14h-4.14ZM707.06 1045.24h4.14v4.14h-4.14ZM682.2 1061.81h4.14v4.14h-4.14ZM707.06 1061.81h4.14v4.14h-4.14ZM686.34 1065.96h4.14v4.14h-4.14ZM702.91 1065.96h4.14v4.14h-4.14Z" fill-opacity="0.3"/><path d="M698.79 1037 711.21 1037 711.21 1041.14 715.36 1041.14 715.36 1045.29 719.5 1045.29 719.5 1057.71 715.36 1057.71 715.36 1061.86 711.21 1061.86 711.21 1066 698.79 1066 698.79 1061.86 694.64 1061.86 694.64 1057.71 690.5 1057.71 690.5 1045.29 694.64 1045.29 694.64 1041.14 698.79 1041.14Z"/><path d="M694.64 1037h4.14v4.14h-4.14ZM711.21 1037h4.14v4.14h-4.14ZM690.5 1041.14h4.14v4.14h-4.14ZM715.36 1041.14h4.14v4.14h-4.14ZM690.5 1057.71h4.14v4.14h-4.14ZM715.36 1057.71h4.14v4.14h-4.14ZM694.64 1061.86h4.14v4.14h-4.14ZM711.21 1061.86h4.14v4.14h-4.14Z" fill-opacity="0.3"/><path d="M511.39 920 523.81 920 523.81 924.14 527.96 924.14 527.96 928.29 532.1 928.29 532.1 940.71 527.96 940.71 527.96 944.86 523.81 944.86 523.81 949 511.39 949 511.39 944.86 507.24 944.86 507.24 940.71 503.1 940.71 503.1 928.29 507.24 928.29 507.24 924.14 511.39 924.14Z"/><path d="M507.24 920h4.14v4.14h-4.14ZM523.81 920h4.14v4.14h-4.14ZM503.1 924.14h4.14v4.14h-4.14ZM527.96 924.14h4.14v4.14h-4.14ZM503.1 940.71h4.14v4.14h-4.14ZM527.96 940.71h4.14v4.14h-4.14ZM507.24 944.86h4.14v4.14h-4.14ZM523.81 944.86h4.14v4.14h-4.14Z" fill-opacity="0.3"/><path d="M540.49 912 552.91 912 552.91 916.14 557.06 916.14 557.06 920.29 561.2 920.29 561.2 932.71 557.06 932.71 557.06 936.86 552.91 936.86 552.91 941 540.49 941 540.49 936.86 536.34 936.86 536.34 932.71 532.2 932.71 532.2 920.29 536.34 920.29 536.34 916.14 540.49 916.14Z"/><path d="M536.34 912h4.14v4.14h-4.14ZM552.91 912h4.14v4.14h-4.14ZM532.2 916.14h4.14v4.14h-4.14ZM557.06 916.14h4.14v4.14h-4.14ZM532.2 932.71h4.14v4.14h-4.14ZM557.06 932.71h4.14v4.14h-4.14ZM536.34 936.86h4.14v4.14h-4.14ZM552.91 936.86h4.14v4.14h-4.14Z" fill-opacity="0.3"/><path d="M515.39 953.5 527.81 953.5 527.81 957.64 531.96 957.64 531.96 961.79 536.1 961.79 536.1 974.21 531.96 974.21 531.96 978.36 527.81 978.36 527.81 982.5 515.39 982.5 515.39 978.36 511.24 978.36 511.24 974.21 507.1 974.21 507.1 961.79 511.24 961.79 511.24 957.64 515.39 957.64Z"/><path d="M511.24 953.5h4.14v4.14h-4.14ZM527.81 953.5h4.14v4.14h-4.14ZM507.1 957.64h4.14v4.14h-4.14ZM531.96 957.64h4.14v4.14h-4.14ZM507.1 974.21h4.14v4.14h-4.14ZM531.96 974.21h4.14v4.14h-4.14ZM511.24 978.36h4.14v4.14h-4.14ZM527.81 978.36h4.14v4.14h-4.14Z" fill-opacity="0.3"/><path d="M619.59 908 632.01 908 632.01 912.14 636.16 912.14 636.16 916.29 640.3 916.29 640.3 928.71 636.16 928.71 636.16 932.86 632.01 932.86 632.01 937 619.59 937 619.59 932.86 615.44 932.86 615.44 928.71 611.3 928.71 611.3 916.29 615.44 916.29 615.44 912.14 619.59 912.14Z"/><path d="M615.44 908h4.14v4.14h-4.14ZM632.01 908h4.14v4.14h-4.14ZM611.3 912.14h4.14v4.14h-4.14ZM636.16 912.14h4.14v4.14h-4.14ZM611.3 928.71h4.14v4.14h-4.14ZM636.16 928.71h4.14v4.14h-4.14ZM615.44 932.86h4.14v4.14h-4.14ZM632.01 932.86h4.14v4.14h-4.14Z" fill-opacity="0.3"/><path d="M623.99 911.3 636.41 911.3 636.41 915.44 640.56 915.44 640.56 919.59 644.7 919.59 644.7 932.01 640.56 932.01 640.56 936.16 636.41 936.16 636.41 940.3 623.99 940.3 623.99 936.16 619.84 936.16 619.84 932.01 615.7 932.01 615.7 919.59 619.84 919.59 619.84 915.44 623.99 915.44Z"/><path d="M619.84 911.3h4.14v4.14h-4.14ZM636.41 911.3h4.14v4.14h-4.14ZM615.7 915.44h4.14v4.14h-4.14ZM640.56 915.44h4.14v4.14h-4.14ZM615.7 932.01h4.14v4.14h-4.14ZM640.56 932.01h4.14v4.14h-4.14ZM619.84 936.16h4.14v4.14h-4.14ZM636.41 936.16h4.14v4.14h-4.14Z" fill-opacity="0.3"/><path d="M607.29 937.1 619.71 937.1 619.71 941.24 623.86 941.24 623.86 945.39 628 945.39 628 957.81 623.86 957.81 623.86 961.96 619.71 961.96 619.71 966.1 607.29 966.1 607.29 961.96 603.14 961.96 603.14 957.81 599 957.81 599 945.39 603.14 945.39 603.14 941.24 607.29 941.24Z"/><path d="M603.14 937.1h4.14v4.14h-4.14ZM619.71 937.1h4.14v4.14h-4.14ZM599 941.24h4.14v4.14h-4.14ZM623.86 941.24h4.14v4.14h-4.14ZM599 957.81h4.14v4.14h-4.14ZM623.86 957.81h4.14v4.14h-4.14ZM603.14 961.96h4.14v4.14h-4.14ZM619.71 961.96h4.14v4.14h-4.14Z" fill-opacity="0.3"/><path d="M628.09 937.1 640.51 937.1 640.51 941.24 644.66 941.24 644.66 945.39 648.8 945.39 648.8 957.81 644.66 957.81 644.66 961.96 640.51 961.96 640.51 966.1 628.09 966.1 628.09 961.96 623.94 961.96 623.94 957.81 619.8 957.81 619.8 945.39 623.94 945.39 623.94 941.24 628.09 941.24Z"/><path d="M623.94 937.1h4.14v4.14h-4.14ZM640.51 937.1h4.14v4.14h-4.14ZM619.8 941.24h4.14v4.14h-4.14ZM644.66 941.24h4.14v4.14h-4.14ZM619.8 957.81h4.14v4.14h-4.14ZM644.66 957.81h4.14v4.14h-4.14ZM623.94 961.96h4.14v4.14h-4.14ZM640.51 961.96h4.14v4.14h-4.14Z" fill-opacity="0.3"/><path d="M586.29 962 598.71 962 598.71 966.14 602.86 966.14 602.86 970.29 607 970.29 607 982.71 602.86 982.71 602.86 986.86 598.71 986.86 598.71 991 586.29 991 586.29 986.86 582.14 986.86 582.14 982.71 578 982.71 578 970.29 582.14 970.29 582.14 966.14 586.29 966.14Z"/><path d="M582.14 962h4.14v4.14h-4.14ZM598.71 962h4.14v4.14h-4.14ZM578 966.14h4.14v4.14h-4.14ZM602.86 966.14h4.14v4.14h-4.14ZM578 982.71h4.14v4.14h-4.14ZM602.86 982.71h4.14v4.14h-4.14ZM582.14 986.86h4.14v4.14h-4.14ZM598.71 986.86h4.14v4.14h-4.14Z" fill-opacity="0.3"/><path d="M628.09 962 640.51 962 640.51 966.14 644.66 966.14 644.66 970.29 648.8 970.29 648.8 982.71 644.66 982.71 644.66 986.86 640.51 986.86 640.51 991 628.09 991 628.09 986.86 623.94 986.86 623.94 982.71 619.8 982.71 619.8 970.29 623.94 970.29 623.94 966.14 628.09 966.14Z"/><path d="M623.94 962h4.14v4.14h-4.14ZM640.51 962h4.14v4.14h-4.14ZM619.8 966.14h4.14v4.14h-4.14ZM644.66 966.14h4.14v4.14h-4.14ZM619.8 982.71h4.14v4.14h-4.14ZM644.66 982.71h4.14v4.14h-4.14ZM623.94 986.86h4.14v4.14h-4.14ZM640.51 986.86h4.14v4.14h-4.14Z" fill-opacity="0.3"/><path d="M640.39 957.8 652.81 957.8 652.81 961.94 656.96 961.94 656.96 966.09 661.1 966.09 661.1 978.51 656.96 978.51 656.96 982.66 652.81 982.66 652.81 986.8 640.39 986.8 640.39 982.66 636.24 982.66 636.24 978.51 632.1 978.51 632.1 966.09 636.24 966.09 636.24 961.94 640.39 961.94Z"/><path d="M636.24 957.8h4.14v4.14h-4.14ZM652.81 957.8h4.14v4.14h-4.14ZM632.1 961.94h4.14v4.14h-4.14ZM656.96 961.94h4.14v4.14h-4.14ZM632.1 978.51h4.14v4.14h-4.14ZM656.96 978.51h4.14v4.14h-4.14ZM636.24 982.66h4.14v4.14h-4.14ZM652.81 982.66h4.14v4.14h-4.14Z" fill-opacity="0.3"/><path d="M473.69 974.4 486.11 974.4 486.11 978.54 490.26 978.54 490.26 982.69 494.4 982.69 494.4 995.11 490.26 995.11 490.26 999.26 486.11 999.26 486.11 1003.4 473.69 1003.4 473.69 999.26 469.54 999.26 469.54 995.11 465.4 995.11 465.4 982.69 469.54 982.69 469.54 978.54 473.69 978.54Z"/><path d="M469.54 974.4h4.14v4.14h-4.14ZM486.11 974.4h4.14v4.14h-4.14ZM465.4 978.54h4.14v4.14h-4.14ZM490.26 978.54h4.14v4.14h-4.14ZM465.4 995.11h4.14v4.14h-4.14ZM490.26 995.11h4.14v4.14h-4.14ZM469.54 999.26h4.14v4.14h-4.14ZM486.11 999.26h4.14v4.14h-4.14Z" fill-opacity="0.3"/><path d="M461.49 994.8 473.91 994.8 473.91 998.94 478.06 998.94 478.06 1003.09 482.2 1003.09 482.2 1015.51 478.06 1015.51 478.06 1019.66 473.91 1019.66 473.91 1023.8 461.49 1023.8 461.49 1019.66 457.34 1019.66 457.34 1015.51 453.2 1015.51 453.2 1003.09 457.34 1003.09 457.34 998.94 461.49 998.94Z"/><path d="M457.34 994.8h4.14v4.14h-4.14ZM473.91 994.8h4.14v4.14h-4.14ZM453.2 998.94h4.14v4.14h-4.14ZM478.06 998.94h4.14v4.14h-4.14ZM453.2 1015.51h4.14v4.14h-4.14ZM478.06 1015.51h4.14v4.14h-4.14ZM457.34 1019.66h4.14v4.14h-4.14ZM473.91 1019.66h4.14v4.14h-4.14Z" fill-opacity="0.3"/><path d="M490.29 1016 502.71 1016 502.71 1020.14 506.86 1020.14 506.86 1024.29 511 1024.29 511 1036.71 506.86 1036.71 506.86 1040.86 502.71 1040.86 502.71 1045 490.29 1045 490.29 1040.86 486.14 1040.86 486.14 1036.71 482 1036.71 482 1024.29 486.14 1024.29 486.14 1020.14 490.29 1020.14Z"/><path d="M486.14 1016h4.14v4.14h-4.14ZM502.71 1016h4.14v4.14h-4.14ZM482 1020.14h4.14v4.14h-4.14ZM506.86 1020.14h4.14v4.14h-4.14ZM482 1036.71h4.14v4.14h-4.14ZM506.86 1036.71h4.14v4.14h-4.14ZM486.14 1040.86h4.14v4.14h-4.14ZM502.71 1040.86h4.14v4.14h-4.14Z" fill-opacity="0.3"/><path d="M482.19 1033.5 494.61 1033.5 494.61 1037.64 498.76 1037.64 498.76 1041.79 502.9 1041.79 502.9 1054.21 498.76 1054.21 498.76 1058.36 494.61 1058.36 494.61 1062.5 482.19 1062.5 482.19 1058.36 478.04 1058.36 478.04 1054.21 473.9 1054.21 473.9 1041.79 478.04 1041.79 478.04 1037.64 482.19 1037.64Z"/><path d="M478.04 1033.5h4.14v4.14h-4.14ZM494.61 1033.5h4.14v4.14h-4.14ZM473.9 1037.64h4.14v4.14h-4.14ZM498.76 1037.64h4.14v4.14h-4.14ZM473.9 1054.21h4.14v4.14h-4.14ZM498.76 1054.21h4.14v4.14h-4.14ZM478.04 1058.36h4.14v4.14h-4.14ZM494.61 1058.36h4.14v4.14h-4.14Z" fill-opacity="0.3"/><path d="M457.19 1053.5 469.61 1053.5 469.61 1057.64 473.76 1057.64 473.76 1061.79 477.9 1061.79 477.9 1074.21 473.76 1074.21 473.76 1078.36 469.61 1078.36 469.61 1082.5 457.19 1082.5 457.19 1078.36 453.04 1078.36 453.04 1074.21 448.9 1074.21 448.9 1061.79 453.04 1061.79 453.04 1057.64 457.19 1057.64Z"/><path d="M453.04 1053.5h4.14v4.14h-4.14ZM469.61 1053.5h4.14v4.14h-4.14ZM448.9 1057.64h4.14v4.14h-4.14ZM473.76 1057.64h4.14v4.14h-4.14ZM448.9 1074.21h4.14v4.14h-4.14ZM473.76 1074.21h4.14v4.14h-4.14ZM453.04 1078.36h4.14v4.14h-4.14ZM469.61 1078.36h4.14v4.14h-4.14Z" fill-opacity="0.3"/><path d="M540.49 1012.3 552.91 1012.3 552.91 1016.44 557.06 1016.44 557.06 1020.59 561.2 1020.59 561.2 1033.01 557.06 1033.01 557.06 1037.16 552.91 1037.16 552.91 1041.3 540.49 1041.3 540.49 1037.16 536.34 1037.16 536.34 1033.01 532.2 1033.01 532.2 1020.59 536.34 1020.59 536.34 1016.44 540.49 1016.44Z"/><path d="M536.34 1012.3h4.14v4.14h-4.14ZM552.91 1012.3h4.14v4.14h-4.14ZM532.2 1016.44h4.14v4.14h-4.14ZM557.06 1016.44h4.14v4.14h-4.14ZM532.2 1033.01h4.14v4.14h-4.14ZM557.06 1033.01h4.14v4.14h-4.14ZM536.34 1037.16h4.14v4.14h-4.14ZM552.91 1037.16h4.14v4.14h-4.14Z" fill-opacity="0.3"/><path d="M573.79 995.5 586.21 995.5 586.21 999.64 590.36 999.64 590.36 1003.79 594.5 1003.79 594.5 1016.21 590.36 1016.21 590.36 1020.36 586.21 1020.36 586.21 1024.5 573.79 1024.5 573.79 1020.36 569.64 1020.36 569.64 1016.21 565.5 1016.21 565.5 1003.79 569.64 1003.79 569.64 999.64 573.79 999.64Z"/><path d="M569.64 995.5h4.14v4.14h-4.14ZM586.21 995.5h4.14v4.14h-4.14ZM565.5 999.64h4.14v4.14h-4.14ZM590.36 999.64h4.14v4.14h-4.14ZM565.5 1016.21h4.14v4.14h-4.14ZM590.36 1016.21h4.14v4.14h-4.14ZM569.64 1020.36h4.14v4.14h-4.14ZM586.21 1020.36h4.14v4.14h-4.14Z" fill-opacity="0.3"/><path d="M565.39 1028.6 577.81 1028.6 577.81 1032.74 581.96 1032.74 581.96 1036.89 586.1 1036.89 586.1 1049.31 581.96 1049.31 581.96 1053.46 577.81 1053.46 577.81 1057.6 565.39 1057.6 565.39 1053.46 561.24 1053.46 561.24 1049.31 557.1 1049.31 557.1 1036.89 561.24 1036.89 561.24 1032.74 565.39 1032.74Z"/><path d="M561.24 1028.6h4.14v4.14h-4.14ZM577.81 1028.6h4.14v4.14h-4.14ZM557.1 1032.74h4.14v4.14h-4.14ZM581.96 1032.74h4.14v4.14h-4.14ZM557.1 1049.31h4.14v4.14h-4.14ZM581.96 1049.31h4.14v4.14h-4.14ZM561.24 1053.46h4.14v4.14h-4.14ZM577.81 1053.46h4.14v4.14h-4.14Z" fill-opacity="0.3"/><path d="M569.59 1040.4 582.01 1040.4 582.01 1044.54 586.16 1044.54 586.16 1048.69 590.3 1048.69 590.3 1061.11 586.16 1061.11 586.16 1065.26 582.01 1065.26 582.01 1069.4 569.59 1069.4 569.59 1065.26 565.44 1065.26 565.44 1061.11 561.3 1061.11 561.3 1048.69 565.44 1048.69 565.44 1044.54 569.59 1044.54Z"/><path d="M565.44 1040.4h4.14v4.14h-4.14ZM582.01 1040.4h4.14v4.14h-4.14ZM561.3 1044.54h4.14v4.14h-4.14ZM586.16 1044.54h4.14v4.14h-4.14ZM561.3 1061.11h4.14v4.14h-4.14ZM586.16 1061.11h4.14v4.14h-4.14ZM565.44 1065.26h4.14v4.14h-4.14ZM582.01 1065.26h4.14v4.14h-4.14Z" fill-opacity="0.3"/><path d="M603.39 1012.3 615.81 1012.3 615.81 1016.44 619.96 1016.44 619.96 1020.59 624.1 1020.59 624.1 1033.01 619.96 1033.01 619.96 1037.16 615.81 1037.16 615.81 1041.3 603.39 1041.3 603.39 1037.16 599.24 1037.16 599.24 1033.01 595.1 1033.01 595.1 1020.59 599.24 1020.59 599.24 1016.44 603.39 1016.44Z"/><path d="M599.24 1012.3h4.14v4.14h-4.14ZM615.81 1012.3h4.14v4.14h-4.14ZM595.1 1016.44h4.14v4.14h-4.14ZM619.96 1016.44h4.14v4.14h-4.14ZM595.1 1033.01h4.14v4.14h-4.14ZM619.96 1033.01h4.14v4.14h-4.14ZM599.24 1037.16h4.14v4.14h-4.14ZM615.81 1037.16h4.14v4.14h-4.14Z" fill-opacity="0.3"/><path d="M619.99 999.7 632.41 999.7 632.41 1003.84 636.56 1003.84 636.56 1007.99 640.7 1007.99 640.7 1020.41 636.56 1020.41 636.56 1024.56 632.41 1024.56 632.41 1028.7 619.99 1028.7 619.99 1024.56 615.84 1024.56 615.84 1020.41 611.7 1020.41 611.7 1007.99 615.84 1007.99 615.84 1003.84 619.99 1003.84Z"/><path d="M615.84 999.7h4.14v4.14h-4.14ZM632.41 999.7h4.14v4.14h-4.14ZM611.7 1003.84h4.14v4.14h-4.14ZM636.56 1003.84h4.14v4.14h-4.14ZM611.7 1020.41h4.14v4.14h-4.14ZM636.56 1020.41h4.14v4.14h-4.14ZM615.84 1024.56h4.14v4.14h-4.14ZM632.41 1024.56h4.14v4.14h-4.14Z" fill-opacity="0.3"/><path d="M652.49 999.7 664.91 999.7 664.91 1003.84 669.06 1003.84 669.06 1007.99 673.2 1007.99 673.2 1020.41 669.06 1020.41 669.06 1024.56 664.91 1024.56 664.91 1028.7 652.49 1028.7 652.49 1024.56 648.34 1024.56 648.34 1020.41 644.2 1020.41 644.2 1007.99 648.34 1007.99 648.34 1003.84 652.49 1003.84Z"/><path d="M648.34 999.7h4.14v4.14h-4.14ZM664.91 999.7h4.14v4.14h-4.14ZM644.2 1003.84h4.14v4.14h-4.14ZM669.06 1003.84h4.14v4.14h-4.14ZM644.2 1020.41h4.14v4.14h-4.14ZM669.06 1020.41h4.14v4.14h-4.14ZM648.34 1024.56h4.14v4.14h-4.14ZM664.91 1024.56h4.14v4.14h-4.14Z" fill-opacity="0.3"/><path d="M656.29 1007.5 668.71 1007.5 668.71 1011.64 672.86 1011.64 672.86 1015.79 677 1015.79 677 1028.21 672.86 1028.21 672.86 1032.36 668.71 1032.36 668.71 1036.5 656.29 1036.5 656.29 1032.36 652.14 1032.36 652.14 1028.21 648 1028.21 648 1015.79 652.14 1015.79 652.14 1011.64 656.29 1011.64Z"/><path d="M652.14 1007.5h4.14v4.14h-4.14ZM668.71 1007.5h4.14v4.14h-4.14ZM648 1011.64h4.14v4.14h-4.14ZM672.86 1011.64h4.14v4.14h-4.14ZM648 1028.21h4.14v4.14h-4.14ZM672.86 1028.21h4.14v4.14h-4.14ZM652.14 1032.36h4.14v4.14h-4.14ZM668.71 1032.36h4.14v4.14h-4.14Z" fill-opacity="0.3"/><path d="M632.39 1037 644.81 1037 644.81 1041.14 648.96 1041.14 648.96 1045.29 653.1 1045.29 653.1 1057.71 648.96 1057.71 648.96 1061.86 644.81 1061.86 644.81 1066 632.39 1066 632.39 1061.86 628.24 1061.86 628.24 1057.71 624.1 1057.71 624.1 1045.29 628.24 1045.29 628.24 1041.14 632.39 1041.14Z"/><path d="M628.24 1037h4.14v4.14h-4.14ZM644.81 1037h4.14v4.14h-4.14ZM624.1 1041.14h4.14v4.14h-4.14ZM648.96 1041.14h4.14v4.14h-4.14ZM624.1 1057.71h4.14v4.14h-4.14ZM648.96 1057.71h4.14v4.14h-4.14ZM628.24 1061.86h4.14v4.14h-4.14ZM644.81 1061.86h4.14v4.14h-4.14Z" fill-opacity="0.3"/><path d="M407.09 878.7 419.51 878.7 419.51 882.84 423.66 882.84 423.66 886.99 427.8 886.99 427.8 899.41 423.66 899.41 423.66 903.56 419.51 903.56 419.51 907.7 407.09 907.7 407.09 903.56 402.94 903.56 402.94 899.41 398.8 899.41 398.8 886.99 402.94 886.99 402.94 882.84 407.09 882.84Z"/><path d="M402.94 878.7h4.14v4.14h-4.14ZM419.51 878.7h4.14v4.14h-4.14ZM398.8 882.84h4.14v4.14h-4.14ZM423.66 882.84h4.14v4.14h-4.14ZM398.8 899.41h4.14v4.14h-4.14ZM423.66 899.41h4.14v4.14h-4.14ZM402.94 903.56h4.14v4.14h-4.14ZM419.51 903.56h4.14v4.14h-4.14Z" fill-opacity="0.3"/><path d="M357.39 903.4 369.81 903.4 369.81 907.54 373.96 907.54 373.96 911.69 378.1 911.69 378.1 924.11 373.96 924.11 373.96 928.26 369.81 928.26 369.81 932.4 357.39 932.4 357.39 928.26 353.24 928.26 353.24 924.11 349.1 924.11 349.1 911.69 353.24 911.69 353.24 907.54 357.39 907.54Z"/><path d="M353.24 903.4h4.14v4.14h-4.14ZM369.81 903.4h4.14v4.14h-4.14ZM349.1 907.54h4.14v4.14h-4.14ZM373.96 907.54h4.14v4.14h-4.14ZM349.1 924.11h4.14v4.14h-4.14ZM373.96 924.11h4.14v4.14h-4.14ZM353.24 928.26h4.14v4.14h-4.14ZM369.81 928.26h4.14v4.14h-4.14Z" fill-opacity="0.3"/><path d="M386.49 903.4 398.91 903.4 398.91 907.54 403.06 907.54 403.06 911.69 407.2 911.69 407.2 924.11 403.06 924.11 403.06 928.26 398.91 928.26 398.91 932.4 386.49 932.4 386.49 928.26 382.34 928.26 382.34 924.11 378.2 924.11 378.2 911.69 382.34 911.69 382.34 907.54 386.49 907.54Z"/><path d="M382.34 903.4h4.14v4.14h-4.14ZM398.91 903.4h4.14v4.14h-4.14ZM378.2 907.54h4.14v4.14h-4.14ZM403.06 907.54h4.14v4.14h-4.14ZM378.2 924.11h4.14v4.14h-4.14ZM403.06 924.11h4.14v4.14h-4.14ZM382.34 928.26h4.14v4.14h-4.14ZM398.91 928.26h4.14v4.14h-4.14Z" fill-opacity="0.3"/><path d="M315.39 1049.7 327.81 1049.7 327.81 1053.84 331.96 1053.84 331.96 1057.99 336.1 1057.99 336.1 1070.41 331.96 1070.41 331.96 1074.56 327.81 1074.56 327.81 1078.7 315.39 1078.7 315.39 1074.56 311.24 1074.56 311.24 1070.41 307.1 1070.41 307.1 1057.99 311.24 1057.99 311.24 1053.84 315.39 1053.84Z"/><path d="M311.24 1049.7h4.14v4.14h-4.14ZM327.81 1049.7h4.14v4.14h-4.14ZM307.1 1053.84h4.14v4.14h-4.14ZM331.96 1053.84h4.14v4.14h-4.14ZM307.1 1070.41h4.14v4.14h-4.14ZM331.96 1070.41h4.14v4.14h-4.14ZM311.24 1074.56h4.14v4.14h-4.14ZM327.81 1074.56h4.14v4.14h-4.14Z" fill-opacity="0.3"/><path d="M344.49 1057.9 356.91 1057.9 356.91 1062.04 361.06 1062.04 361.06 1066.19 365.2 1066.19 365.2 1078.61 361.06 1078.61 361.06 1082.76 356.91 1082.76 356.91 1086.9 344.49 1086.9 344.49 1082.76 340.34 1082.76 340.34 1078.61 336.2 1078.61 336.2 1066.19 340.34 1066.19 340.34 1062.04 344.49 1062.04Z"/><path d="M340.34 1057.9h4.14v4.14h-4.14ZM356.91 1057.9h4.14v4.14h-4.14ZM336.2 1062.04h4.14v4.14h-4.14ZM361.06 1062.04h4.14v4.14h-4.14ZM336.2 1078.61h4.14v4.14h-4.14ZM361.06 1078.61h4.14v4.14h-4.14ZM340.34 1082.76h4.14v4.14h-4.14ZM356.91 1082.76h4.14v4.14h-4.14Z" fill-opacity="0.3"/><path d="M294.59 941.5 307.01 941.5 307.01 945.64 311.16 945.64 311.16 949.79 315.3 949.79 315.3 962.21 311.16 962.21 311.16 966.36 307.01 966.36 307.01 970.5 294.59 970.5 294.59 966.36 290.44 966.36 290.44 962.21 286.3 962.21 286.3 949.79 290.44 949.79 290.44 945.64 294.59 945.64Z"/><path d="M290.44 941.5h4.14v4.14h-4.14ZM307.01 941.5h4.14v4.14h-4.14ZM286.3 945.64h4.14v4.14h-4.14ZM311.16 945.64h4.14v4.14h-4.14ZM286.3 962.21h4.14v4.14h-4.14ZM311.16 962.21h4.14v4.14h-4.14ZM290.44 966.36h4.14v4.14h-4.14ZM307.01 966.36h4.14v4.14h-4.14Z" fill-opacity="0.3"/><path d="M298.79 970 311.21 970 311.21 974.14 315.36 974.14 315.36 978.29 319.5 978.29 319.5 990.71 315.36 990.71 315.36 994.86 311.21 994.86 311.21 999 298.79 999 298.79 994.86 294.64 994.86 294.64 990.71 290.5 990.71 290.5 978.29 294.64 978.29 294.64 974.14 298.79 974.14Z"/><path d="M294.64 970h4.14v4.14h-4.14ZM311.21 970h4.14v4.14h-4.14ZM290.5 974.14h4.14v4.14h-4.14ZM315.36 974.14h4.14v4.14h-4.14ZM290.5 990.71h4.14v4.14h-4.14ZM315.36 990.71h4.14v4.14h-4.14ZM294.64 994.86h4.14v4.14h-4.14ZM311.21 994.86h4.14v4.14h-4.14Z" fill-opacity="0.3"/><path d="M318.79 937 331.21 937 331.21 941.14 335.36 941.14 335.36 945.29 339.5 945.29 339.5 957.71 335.36 957.71 335.36 961.86 331.21 961.86 331.21 966 318.79 966 318.79 961.86 314.64 961.86 314.64 957.71 310.5 957.71 310.5 945.29 314.64 945.29 314.64 941.14 318.79 941.14Z"/><path d="M314.64 937h4.14v4.14h-4.14ZM331.21 937h4.14v4.14h-4.14ZM310.5 941.14h4.14v4.14h-4.14ZM335.36 941.14h4.14v4.14h-4.14ZM310.5 957.71h4.14v4.14h-4.14ZM335.36 957.71h4.14v4.14h-4.14ZM314.64 961.86h4.14v4.14h-4.14ZM331.21 961.86h4.14v4.14h-4.14Z" fill-opacity="0.3"/><path d="M330.99 935.5 343.41 935.5 343.41 939.64 347.56 939.64 347.56 943.79 351.7 943.79 351.7 956.21 347.56 956.21 347.56 960.36 343.41 960.36 343.41 964.5 330.99 964.5 330.99 960.36 326.84 960.36 326.84 956.21 322.7 956.21 322.7 943.79 326.84 943.79 326.84 939.64 330.99 939.64Z"/><path d="M326.84 935.5h4.14v4.14h-4.14ZM343.41 935.5h4.14v4.14h-4.14ZM322.7 939.64h4.14v4.14h-4.14ZM347.56 939.64h4.14v4.14h-4.14ZM322.7 956.21h4.14v4.14h-4.14ZM347.56 956.21h4.14v4.14h-4.14ZM326.84 960.36h4.14v4.14h-4.14ZM343.41 960.36h4.14v4.14h-4.14Z" fill-opacity="0.3"/><path d="M335.79 941.6 348.21 941.6 348.21 945.74 352.36 945.74 352.36 949.89 356.5 949.89 356.5 962.31 352.36 962.31 352.36 966.46 348.21 966.46 348.21 970.6 335.79 970.6 335.79 966.46 331.64 966.46 331.64 962.31 327.5 962.31 327.5 949.89 331.64 949.89 331.64 945.74 335.79 945.74Z"/><path d="M331.64 941.6h4.14v4.14h-4.14ZM348.21 941.6h4.14v4.14h-4.14ZM327.5 945.74h4.14v4.14h-4.14ZM352.36 945.74h4.14v4.14h-4.14ZM327.5 962.31h4.14v4.14h-4.14ZM352.36 962.31h4.14v4.14h-4.14ZM331.64 966.46h4.14v4.14h-4.14ZM348.21 966.46h4.14v4.14h-4.14Z" fill-opacity="0.3"/><path d="M340.79 948.5 353.21 948.5 353.21 952.64 357.36 952.64 357.36 956.79 361.5 956.79 361.5 969.21 357.36 969.21 357.36 973.36 353.21 973.36 353.21 977.5 340.79 977.5 340.79 973.36 336.64 973.36 336.64 969.21 332.5 969.21 332.5 956.79 336.64 956.79 336.64 952.64 340.79 952.64Z"/><path d="M336.64 948.5h4.14v4.14h-4.14ZM353.21 948.5h4.14v4.14h-4.14ZM332.5 952.64h4.14v4.14h-4.14ZM357.36 952.64h4.14v4.14h-4.14ZM332.5 969.21h4.14v4.14h-4.14ZM357.36 969.21h4.14v4.14h-4.14ZM336.64 973.36h4.14v4.14h-4.14ZM353.21 973.36h4.14v4.14h-4.14Z" fill-opacity="0.3"/><path d="M345.79 955.5 358.21 955.5 358.21 959.64 362.36 959.64 362.36 963.79 366.5 963.79 366.5 976.21 362.36 976.21 362.36 980.36 358.21 980.36 358.21 984.5 345.79 984.5 345.79 980.36 341.64 980.36 341.64 976.21 337.5 976.21 337.5 963.79 341.64 963.79 341.64 959.64 345.79 959.64Z"/><path d="M341.64 955.5h4.14v4.14h-4.14ZM358.21 955.5h4.14v4.14h-4.14ZM337.5 959.64h4.14v4.14h-4.14ZM362.36 959.64h4.14v4.14h-4.14ZM337.5 976.21h4.14v4.14h-4.14ZM362.36 976.21h4.14v4.14h-4.14ZM341.64 980.36h4.14v4.14h-4.14ZM358.21 980.36h4.14v4.14h-4.14Z" fill-opacity="0.3"/><path d="M350.79 962.5 363.21 962.5 363.21 966.64 367.36 966.64 367.36 970.79 371.5 970.79 371.5 983.21 367.36 983.21 367.36 987.36 363.21 987.36 363.21 991.5 350.79 991.5 350.79 987.36 346.64 987.36 346.64 983.21 342.5 983.21 342.5 970.79 346.64 970.79 346.64 966.64 350.79 966.64Z"/><path d="M346.64 962.5h4.14v4.14h-4.14ZM363.21 962.5h4.14v4.14h-4.14ZM342.5 966.64h4.14v4.14h-4.14ZM367.36 966.64h4.14v4.14h-4.14ZM342.5 983.21h4.14v4.14h-4.14ZM367.36 983.21h4.14v4.14h-4.14ZM346.64 987.36h4.14v4.14h-4.14ZM363.21 987.36h4.14v4.14h-4.14Z" fill-opacity="0.3"/><path d="M355.79 969.5 368.21 969.5 368.21 973.64 372.36 973.64 372.36 977.79 376.5 977.79 376.5 990.21 372.36 990.21 372.36 994.36 368.21 994.36 368.21 998.5 355.79 998.5 355.79 994.36 351.64 994.36 351.64 990.21 347.5 990.21 347.5 977.79 351.64 977.79 351.64 973.64 355.79 973.64Z"/><path d="M351.64 969.5h4.14v4.14h-4.14ZM368.21 969.5h4.14v4.14h-4.14ZM347.5 973.64h4.14v4.14h-4.14ZM372.36 973.64h4.14v4.14h-4.14ZM347.5 990.21h4.14v4.14h-4.14ZM372.36 990.21h4.14v4.14h-4.14ZM351.64 994.36h4.14v4.14h-4.14ZM368.21 994.36h4.14v4.14h-4.14Z" fill-opacity="0.3"/><path d="M360.39 975.9 372.81 975.9 372.81 980.04 376.96 980.04 376.96 984.19 381.1 984.19 381.1 996.61 376.96 996.61 376.96 1000.76 372.81 1000.76 372.81 1004.9 360.39 1004.9 360.39 1000.76 356.24 1000.76 356.24 996.61 352.1 996.61 352.1 984.19 356.24 984.19 356.24 980.04 360.39 980.04Z"/><path d="M356.24 975.9h4.14v4.14h-4.14ZM372.81 975.9h4.14v4.14h-4.14ZM352.1 980.04h4.14v4.14h-4.14ZM376.96 980.04h4.14v4.14h-4.14ZM352.1 996.61h4.14v4.14h-4.14ZM376.96 996.61h4.14v4.14h-4.14ZM356.24 1000.76h4.14v4.14h-4.14ZM372.81 1000.76h4.14v4.14h-4.14Z" fill-opacity="0.3"/><path d="M390.39 962.3 402.81 962.3 402.81 966.44 406.96 966.44 406.96 970.59 411.1 970.59 411.1 983.01 406.96 983.01 406.96 987.16 402.81 987.16 402.81 991.3 390.39 991.3 390.39 987.16 386.24 987.16 386.24 983.01 382.1 983.01 382.1 970.59 386.24 970.59 386.24 966.44 390.39 966.44Z"/><path d="M386.24 962.3h4.14v4.14h-4.14ZM402.81 962.3h4.14v4.14h-4.14ZM382.1 966.44h4.14v4.14h-4.14ZM406.96 966.44h4.14v4.14h-4.14ZM382.1 983.01h4.14v4.14h-4.14ZM406.96 983.01h4.14v4.14h-4.14ZM386.24 987.16h4.14v4.14h-4.14ZM402.81 987.16h4.14v4.14h-4.14Z" fill-opacity="0.3"/><path d="M420.79 941.5 433.21 941.5 433.21 945.64 437.36 945.64 437.36 949.79 441.5 949.79 441.5 962.21 437.36 962.21 437.36 966.36 433.21 966.36 433.21 970.5 420.79 970.5 420.79 966.36 416.64 966.36 416.64 962.21 412.5 962.21 412.5 949.79 416.64 949.79 416.64 945.64 420.79 945.64Z"/><path d="M416.64 941.5h4.14v4.14h-4.14ZM433.21 941.5h4.14v4.14h-4.14ZM412.5 945.64h4.14v4.14h-4.14ZM437.36 945.64h4.14v4.14h-4.14ZM412.5 962.21h4.14v4.14h-4.14ZM437.36 962.21h4.14v4.14h-4.14ZM416.64 966.36h4.14v4.14h-4.14ZM433.21 966.36h4.14v4.14h-4.14Z" fill-opacity="0.3"/><path d="M440.59 943.2 453.01 943.2 453.01 947.34 457.16 947.34 457.16 951.49 461.3 951.49 461.3 963.91 457.16 963.91 457.16 968.06 453.01 968.06 453.01 972.2 440.59 972.2 440.59 968.06 436.44 968.06 436.44 963.91 432.3 963.91 432.3 951.49 436.44 951.49 436.44 947.34 440.59 947.34Z"/><path d="M436.44 943.2h4.14v4.14h-4.14ZM453.01 943.2h4.14v4.14h-4.14ZM432.3 947.34h4.14v4.14h-4.14ZM457.16 947.34h4.14v4.14h-4.14ZM432.3 963.91h4.14v4.14h-4.14ZM457.16 963.91h4.14v4.14h-4.14ZM436.44 968.06h4.14v4.14h-4.14ZM453.01 968.06h4.14v4.14h-4.14Z" fill-opacity="0.3"/><path d="M420.39 971.3 432.81 971.3 432.81 975.44 436.96 975.44 436.96 979.59 441.1 979.59 441.1 992.01 436.96 992.01 436.96 996.16 432.81 996.16 432.81 1000.3 420.39 1000.3 420.39 996.16 416.24 996.16 416.24 992.01 412.1 992.01 412.1 979.59 416.24 979.59 416.24 975.44 420.39 975.44Z"/><path d="M416.24 971.3h4.14v4.14h-4.14ZM432.81 971.3h4.14v4.14h-4.14ZM412.1 975.44h4.14v4.14h-4.14ZM436.96 975.44h4.14v4.14h-4.14ZM412.1 992.01h4.14v4.14h-4.14ZM436.96 992.01h4.14v4.14h-4.14ZM416.24 996.16h4.14v4.14h-4.14ZM432.81 996.16h4.14v4.14h-4.14Z" fill-opacity="0.3"/><path d="M433.79 970.5 446.21 970.5 446.21 974.64 450.36 974.64 450.36 978.79 454.5 978.79 454.5 991.21 450.36 991.21 450.36 995.36 446.21 995.36 446.21 999.5 433.79 999.5 433.79 995.36 429.64 995.36 429.64 991.21 425.5 991.21 425.5 978.79 429.64 978.79 429.64 974.64 433.79 974.64Z"/><path d="M429.64 970.5h4.14v4.14h-4.14ZM446.21 970.5h4.14v4.14h-4.14ZM425.5 974.64h4.14v4.14h-4.14ZM450.36 974.64h4.14v4.14h-4.14ZM425.5 991.21h4.14v4.14h-4.14ZM450.36 991.21h4.14v4.14h-4.14ZM429.64 995.36h4.14v4.14h-4.14ZM446.21 995.36h4.14v4.14h-4.14Z" fill-opacity="0.3"/><path d="M313.79 955.5 326.21 955.5 326.21 959.64 330.36 959.64 330.36 963.79 334.5 963.79 334.5 976.21 330.36 976.21 330.36 980.36 326.21 980.36 326.21 984.5 313.79 984.5 313.79 980.36 309.64 980.36 309.64 976.21 305.5 976.21 305.5 963.79 309.64 963.79 309.64 959.64 313.79 959.64Z"/><path d="M309.64 955.5h4.14v4.14h-4.14ZM326.21 955.5h4.14v4.14h-4.14ZM305.5 959.64h4.14v4.14h-4.14ZM330.36 959.64h4.14v4.14h-4.14ZM305.5 976.21h4.14v4.14h-4.14ZM330.36 976.21h4.14v4.14h-4.14ZM309.64 980.36h4.14v4.14h-4.14ZM326.21 980.36h4.14v4.14h-4.14Z" fill-opacity="0.3"/><path d="M323.79 965.5 336.21 965.5 336.21 969.64 340.36 969.64 340.36 973.79 344.5 973.79 344.5 986.21 340.36 986.21 340.36 990.36 336.21 990.36 336.21 994.5 323.79 994.5 323.79 990.36 319.64 990.36 319.64 986.21 315.5 986.21 315.5 973.79 319.64 973.79 319.64 969.64 323.79 969.64Z"/><path d="M319.64 965.5h4.14v4.14h-4.14ZM336.21 965.5h4.14v4.14h-4.14ZM315.5 969.64h4.14v4.14h-4.14ZM340.36 969.64h4.14v4.14h-4.14ZM315.5 986.21h4.14v4.14h-4.14ZM340.36 986.21h4.14v4.14h-4.14ZM319.64 990.36h4.14v4.14h-4.14ZM336.21 990.36h4.14v4.14h-4.14Z" fill-opacity="0.3"/><path d="M333.79 975.5 346.21 975.5 346.21 979.64 350.36 979.64 350.36 983.79 354.5 983.79 354.5 996.21 350.36 996.21 350.36 1000.36 346.21 1000.36 346.21 1004.5 333.79 1004.5 333.79 1000.36 329.64 1000.36 329.64 996.21 325.5 996.21 325.5 983.79 329.64 983.79 329.64 979.64 333.79 979.64Z"/><path d="M329.64 975.5h4.14v4.14h-4.14ZM346.21 975.5h4.14v4.14h-4.14ZM325.5 979.64h4.14v4.14h-4.14ZM350.36 979.64h4.14v4.14h-4.14ZM325.5 996.21h4.14v4.14h-4.14ZM350.36 996.21h4.14v4.14h-4.14ZM329.64 1000.36h4.14v4.14h-4.14ZM346.21 1000.36h4.14v4.14h-4.14Z" fill-opacity="0.3"/><path d="M343.79 985.5 356.21 985.5 356.21 989.64 360.36 989.64 360.36 993.79 364.5 993.79 364.5 1006.21 360.36 1006.21 360.36 1010.36 356.21 1010.36 356.21 1014.5 343.79 1014.5 343.79 1010.36 339.64 1010.36 339.64 1006.21 335.5 1006.21 335.5 993.79 339.64 993.79 339.64 989.64 343.79 989.64Z"/><path d="M339.64 985.5h4.14v4.14h-4.14ZM356.21 985.5h4.14v4.14h-4.14ZM335.5 989.64h4.14v4.14h-4.14ZM360.36 989.64h4.14v4.14h-4.14ZM335.5 1006.21h4.14v4.14h-4.14ZM360.36 1006.21h4.14v4.14h-4.14ZM339.64 1010.36h4.14v4.14h-4.14ZM356.21 1010.36h4.14v4.14h-4.14Z" fill-opacity="0.3"/><path d="M358.79 985.5 371.21 985.5 371.21 989.64 375.36 989.64 375.36 993.79 379.5 993.79 379.5 1006.21 375.36 1006.21 375.36 1010.36 371.21 1010.36 371.21 1014.5 358.79 1014.5 358.79 1010.36 354.64 1010.36 354.64 1006.21 350.5 1006.21 350.5 993.79 354.64 993.79 354.64 989.64 358.79 989.64Z"/><path d="M354.64 985.5h4.14v4.14h-4.14ZM371.21 985.5h4.14v4.14h-4.14ZM350.5 989.64h4.14v4.14h-4.14ZM375.36 989.64h4.14v4.14h-4.14ZM350.5 1006.21h4.14v4.14h-4.14ZM375.36 1006.21h4.14v4.14h-4.14ZM354.64 1010.36h4.14v4.14h-4.14ZM371.21 1010.36h4.14v4.14h-4.14Z" fill-opacity="0.3"/><path d="M373.79 983.5 386.21 983.5 386.21 987.64 390.36 987.64 390.36 991.79 394.5 991.79 394.5 1004.21 390.36 1004.21 390.36 1008.36 386.21 1008.36 386.21 1012.5 373.79 1012.5 373.79 1008.36 369.64 1008.36 369.64 1004.21 365.5 1004.21 365.5 991.79 369.64 991.79 369.64 987.64 373.79 987.64Z"/><path d="M369.64 983.5h4.14v4.14h-4.14ZM386.21 983.5h4.14v4.14h-4.14ZM365.5 987.64h4.14v4.14h-4.14ZM390.36 987.64h4.14v4.14h-4.14ZM365.5 1004.21h4.14v4.14h-4.14ZM390.36 1004.21h4.14v4.14h-4.14ZM369.64 1008.36h4.14v4.14h-4.14ZM386.21 1008.36h4.14v4.14h-4.14Z" fill-opacity="0.3"/><path d="M388.79 980.5 401.21 980.5 401.21 984.64 405.36 984.64 405.36 988.79 409.5 988.79 409.5 1001.21 405.36 1001.21 405.36 1005.36 401.21 1005.36 401.21 1009.5 388.79 1009.5 388.79 1005.36 384.64 1005.36 384.64 1001.21 380.5 1001.21 380.5 988.79 384.64 988.79 384.64 984.64 388.79 984.64Z"/><path d="M384.64 980.5h4.14v4.14h-4.14ZM401.21 980.5h4.14v4.14h-4.14ZM380.5 984.64h4.14v4.14h-4.14ZM405.36 984.64h4.14v4.14h-4.14ZM380.5 1001.21h4.14v4.14h-4.14ZM405.36 1001.21h4.14v4.14h-4.14ZM384.64 1005.36h4.14v4.14h-4.14ZM401.21 1005.36h4.14v4.14h-4.14Z" fill-opacity="0.3"/><path d="M342.29 1000.5 354.71 1000.5 354.71 1004.64 358.86 1004.64 358.86 1008.79 363 1008.79 363 1021.21 358.86 1021.21 358.86 1025.36 354.71 1025.36 354.71 1029.5 342.29 1029.5 342.29 1025.36 338.14 1025.36 338.14 1021.21 334 1021.21 334 1008.79 338.14 1008.79 338.14 1004.64 342.29 1004.64Z"/><path d="M338.14 1000.5h4.14v4.14h-4.14ZM354.71 1000.5h4.14v4.14h-4.14ZM334 1004.64h4.14v4.14h-4.14ZM358.86 1004.64h4.14v4.14h-4.14ZM334 1021.21h4.14v4.14h-4.14ZM358.86 1021.21h4.14v4.14h-4.14ZM338.14 1025.36h4.14v4.14h-4.14ZM354.71 1025.36h4.14v4.14h-4.14Z" fill-opacity="0.3"/><path d="M342.29 1020.5 354.71 1020.5 354.71 1024.64 358.86 1024.64 358.86 1028.79 363 1028.79 363 1041.21 358.86 1041.21 358.86 1045.36 354.71 1045.36 354.71 1049.5 342.29 1049.5 342.29 1045.36 338.14 1045.36 338.14 1041.21 334 1041.21 334 1028.79 338.14 1028.79 338.14 1024.64 342.29 1024.64Z"/><path d="M338.14 1020.5h4.14v4.14h-4.14ZM354.71 1020.5h4.14v4.14h-4.14ZM334 1024.64h4.14v4.14h-4.14ZM358.86 1024.64h4.14v4.14h-4.14ZM334 1041.21h4.14v4.14h-4.14ZM358.86 1041.21h4.14v4.14h-4.14ZM338.14 1045.36h4.14v4.14h-4.14ZM354.71 1045.36h4.14v4.14h-4.14Z" fill-opacity="0.3"/><path d="M350.79 1031.5 363.21 1031.5 363.21 1035.64 367.36 1035.64 367.36 1039.79 371.5 1039.79 371.5 1052.21 367.36 1052.21 367.36 1056.36 363.21 1056.36 363.21 1060.5 350.79 1060.5 350.79 1056.36 346.64 1056.36 346.64 1052.21 342.5 1052.21 342.5 1039.79 346.64 1039.79 346.64 1035.64 350.79 1035.64Z"/><path d="M346.64 1031.5h4.14v4.14h-4.14ZM363.21 1031.5h4.14v4.14h-4.14ZM342.5 1035.64h4.14v4.14h-4.14ZM367.36 1035.64h4.14v4.14h-4.14ZM342.5 1052.21h4.14v4.14h-4.14ZM367.36 1052.21h4.14v4.14h-4.14ZM346.64 1056.36h4.14v4.14h-4.14ZM363.21 1056.36h4.14v4.14h-4.14Z" fill-opacity="0.3"/><path d="M365.79 1031.5 378.21 1031.5 378.21 1035.64 382.36 1035.64 382.36 1039.79 386.5 1039.79 386.5 1052.21 382.36 1052.21 382.36 1056.36 378.21 1056.36 378.21 1060.5 365.79 1060.5 365.79 1056.36 361.64 1056.36 361.64 1052.21 357.5 1052.21 357.5 1039.79 361.64 1039.79 361.64 1035.64 365.79 1035.64Z"/><path d="M361.64 1031.5h4.14v4.14h-4.14ZM378.21 1031.5h4.14v4.14h-4.14ZM357.5 1035.64h4.14v4.14h-4.14ZM382.36 1035.64h4.14v4.14h-4.14ZM357.5 1052.21h4.14v4.14h-4.14ZM382.36 1052.21h4.14v4.14h-4.14ZM361.64 1056.36h4.14v4.14h-4.14ZM378.21 1056.36h4.14v4.14h-4.14Z" fill-opacity="0.3"/><path d="M383.79 1037 396.21 1037 396.21 1041.14 400.36 1041.14 400.36 1045.29 404.5 1045.29 404.5 1057.71 400.36 1057.71 400.36 1061.86 396.21 1061.86 396.21 1066 383.79 1066 383.79 1061.86 379.64 1061.86 379.64 1057.71 375.5 1057.71 375.5 1045.29 379.64 1045.29 379.64 1041.14 383.79 1041.14Z"/><path d="M379.64 1037h4.14v4.14h-4.14ZM396.21 1037h4.14v4.14h-4.14ZM375.5 1041.14h4.14v4.14h-4.14ZM400.36 1041.14h4.14v4.14h-4.14ZM375.5 1057.71h4.14v4.14h-4.14ZM400.36 1057.71h4.14v4.14h-4.14ZM379.64 1061.86h4.14v4.14h-4.14ZM396.21 1061.86h4.14v4.14h-4.14Z" fill-opacity="0.3"/><path d="M402.29 1025.5 414.71 1025.5 414.71 1029.64 418.86 1029.64 418.86 1033.79 423 1033.79 423 1046.21 418.86 1046.21 418.86 1050.36 414.71 1050.36 414.71 1054.5 402.29 1054.5 402.29 1050.36 398.14 1050.36 398.14 1046.21 394 1046.21 394 1033.79 398.14 1033.79 398.14 1029.64 402.29 1029.64Z"/><path d="M398.14 1025.5h4.14v4.14h-4.14ZM414.71 1025.5h4.14v4.14h-4.14ZM394 1029.64h4.14v4.14h-4.14ZM418.86 1029.64h4.14v4.14h-4.14ZM394 1046.21h4.14v4.14h-4.14ZM418.86 1046.21h4.14v4.14h-4.14ZM398.14 1050.36h4.14v4.14h-4.14ZM414.71 1050.36h4.14v4.14h-4.14Z" fill-opacity="0.3"/><path d="M358.79 1005.5 371.21 1005.5 371.21 1009.64 375.36 1009.64 375.36 1013.79 379.5 1013.79 379.5 1026.21 375.36 1026.21 375.36 1030.36 371.21 1030.36 371.21 1034.5 358.79 1034.5 358.79 1030.36 354.64 1030.36 354.64 1026.21 350.5 1026.21 350.5 1013.79 354.64 1013.79 354.64 1009.64 358.79 1009.64Z"/><path d="M354.64 1005.5h4.14v4.14h-4.14ZM371.21 1005.5h4.14v4.14h-4.14ZM350.5 1009.64h4.14v4.14h-4.14ZM375.36 1009.64h4.14v4.14h-4.14ZM350.5 1026.21h4.14v4.14h-4.14ZM375.36 1026.21h4.14v4.14h-4.14ZM354.64 1030.36h4.14v4.14h-4.14ZM371.21 1030.36h4.14v4.14h-4.14Z" fill-opacity="0.3"/><path d="M363.29 1012.5 375.71 1012.5 375.71 1016.64 379.86 1016.64 379.86 1020.79 384 1020.79 384 1033.21 379.86 1033.21 379.86 1037.36 375.71 1037.36 375.71 1041.5 363.29 1041.5 363.29 1037.36 359.14 1037.36 359.14 1033.21 355 1033.21 355 1020.79 359.14 1020.79 359.14 1016.64 363.29 1016.64Z"/><path d="M359.14 1012.5h4.14v4.14h-4.14ZM375.71 1012.5h4.14v4.14h-4.14ZM355 1016.64h4.14v4.14h-4.14ZM379.86 1016.64h4.14v4.14h-4.14ZM355 1033.21h4.14v4.14h-4.14ZM379.86 1033.21h4.14v4.14h-4.14ZM359.14 1037.36h4.14v4.14h-4.14ZM375.71 1037.36h4.14v4.14h-4.14Z" fill-opacity="0.3"/><path d="M446.79 990.8 459.21 990.8 459.21 994.94 463.36 994.94 463.36 999.09 467.5 999.09 467.5 1011.51 463.36 1011.51 463.36 1015.66 459.21 1015.66 459.21 1019.8 446.79 1019.8 446.79 1015.66 442.64 1015.66 442.64 1011.51 438.5 1011.51 438.5 999.09 442.64 999.09 442.64 994.94 446.79 994.94Z"/><path d="M442.64 990.8h4.14v4.14h-4.14ZM459.21 990.8h4.14v4.14h-4.14ZM438.5 994.94h4.14v4.14h-4.14ZM463.36 994.94h4.14v4.14h-4.14ZM438.5 1011.51h4.14v4.14h-4.14ZM463.36 1011.51h4.14v4.14h-4.14ZM442.64 1015.66h4.14v4.14h-4.14ZM459.21 1015.66h4.14v4.14h-4.14Z" fill-opacity="0.3"/><path d="M313.79 970.5 326.21 970.5 326.21 974.64 330.36 974.64 330.36 978.79 334.5 978.79 334.5 991.21 330.36 991.21 330.36 995.36 326.21 995.36 326.21 999.5 313.79 999.5 313.79 995.36 309.64 995.36 309.64 991.21 305.5 991.21 305.5 978.79 309.64 978.79 309.64 974.64 313.79 974.64Z"/><path d="M309.64 970.5h4.14v4.14h-4.14ZM326.21 970.5h4.14v4.14h-4.14ZM305.5 974.64h4.14v4.14h-4.14ZM330.36 974.64h4.14v4.14h-4.14ZM305.5 991.21h4.14v4.14h-4.14ZM330.36 991.21h4.14v4.14h-4.14ZM309.64 995.36h4.14v4.14h-4.14ZM326.21 995.36h4.14v4.14h-4.14Z" fill-opacity="0.3"/><path d="M383.79 988 396.21 988 396.21 992.14 400.36 992.14 400.36 996.29 404.5 996.29 404.5 1008.71 400.36 1008.71 400.36 1012.86 396.21 1012.86 396.21 1017 383.79 1017 383.79 1012.86 379.64 1012.86 379.64 1008.71 375.5 1008.71 375.5 996.29 379.64 996.29 379.64 992.14 383.79 992.14Z"/><path d="M379.64 988h4.14v4.14h-4.14ZM396.21 988h4.14v4.14h-4.14ZM375.5 992.14h4.14v4.14h-4.14ZM400.36 992.14h4.14v4.14h-4.14ZM375.5 1008.71h4.14v4.14h-4.14ZM400.36 1008.71h4.14v4.14h-4.14ZM379.64 1012.86h4.14v4.14h-4.14ZM396.21 1012.86h4.14v4.14h-4.14Z" fill-opacity="0.3"/><path d="M392.79 987.5 405.21 987.5 405.21 991.64 409.36 991.64 409.36 995.79 413.5 995.79 413.5 1008.21 409.36 1008.21 409.36 1012.36 405.21 1012.36 405.21 1016.5 392.79 1016.5 392.79 1012.36 388.64 1012.36 388.64 1008.21 384.5 1008.21 384.5 995.79 388.64 995.79 388.64 991.64 392.79 991.64Z"/><path d="M388.64 987.5h4.14v4.14h-4.14ZM405.21 987.5h4.14v4.14h-4.14ZM384.5 991.64h4.14v4.14h-4.14ZM409.36 991.64h4.14v4.14h-4.14ZM384.5 1008.21h4.14v4.14h-4.14ZM409.36 1008.21h4.14v4.14h-4.14ZM388.64 1012.36h4.14v4.14h-4.14ZM405.21 1012.36h4.14v4.14h-4.14Z" fill-opacity="0.3"/><path d="M358.79 995.5 371.21 995.5 371.21 999.64 375.36 999.64 375.36 1003.79 379.5 1003.79 379.5 1016.21 375.36 1016.21 375.36 1020.36 371.21 1020.36 371.21 1024.5 358.79 1024.5 358.79 1020.36 354.64 1020.36 354.64 1016.21 350.5 1016.21 350.5 1003.79 354.64 1003.79 354.64 999.64 358.79 999.64Z"/><path d="M354.64 995.5h4.14v4.14h-4.14ZM371.21 995.5h4.14v4.14h-4.14ZM350.5 999.64h4.14v4.14h-4.14ZM375.36 999.64h4.14v4.14h-4.14ZM350.5 1016.21h4.14v4.14h-4.14ZM375.36 1016.21h4.14v4.14h-4.14ZM354.64 1020.36h4.14v4.14h-4.14ZM371.21 1020.36h4.14v4.14h-4.14Z" fill-opacity="0.3"/><path d="M348.79 975.5 361.21 975.5 361.21 979.64 365.36 979.64 365.36 983.79 369.5 983.79 369.5 996.21 365.36 996.21 365.36 1000.36 361.21 1000.36 361.21 1004.5 348.79 1004.5 348.79 1000.36 344.64 1000.36 344.64 996.21 340.5 996.21 340.5 983.79 344.64 983.79 344.64 979.64 348.79 979.64Z"/><path d="M344.64 975.5h4.14v4.14h-4.14ZM361.21 975.5h4.14v4.14h-4.14ZM340.5 979.64h4.14v4.14h-4.14ZM365.36 979.64h4.14v4.14h-4.14ZM340.5 996.21h4.14v4.14h-4.14ZM365.36 996.21h4.14v4.14h-4.14ZM344.64 1000.36h4.14v4.14h-4.14ZM361.21 1000.36h4.14v4.14h-4.14Z" fill-opacity="0.3"/><path d="M328.79 950.5 341.21 950.5 341.21 954.64 345.36 954.64 345.36 958.79 349.5 958.79 349.5 971.21 345.36 971.21 345.36 975.36 341.21 975.36 341.21 979.5 328.79 979.5 328.79 975.36 324.64 975.36 324.64 971.21 320.5 971.21 320.5 958.79 324.64 958.79 324.64 954.64 328.79 954.64Z"/><path d="M324.64 950.5h4.14v4.14h-4.14ZM341.21 950.5h4.14v4.14h-4.14ZM320.5 954.64h4.14v4.14h-4.14ZM345.36 954.64h4.14v4.14h-4.14ZM320.5 971.21h4.14v4.14h-4.14ZM345.36 971.21h4.14v4.14h-4.14ZM324.64 975.36h4.14v4.14h-4.14ZM341.21 975.36h4.14v4.14h-4.14Z" fill-opacity="0.3"/><path d="M393.79 975.5 406.21 975.5 406.21 979.64 410.36 979.64 410.36 983.79 414.5 983.79 414.5 996.21 410.36 996.21 410.36 1000.36 406.21 1000.36 406.21 1004.5 393.79 1004.5 393.79 1000.36 389.64 1000.36 389.64 996.21 385.5 996.21 385.5 983.79 389.64 983.79 389.64 979.64 393.79 979.64Z"/><path d="M389.64 975.5h4.14v4.14h-4.14ZM406.21 975.5h4.14v4.14h-4.14ZM385.5 979.64h4.14v4.14h-4.14ZM410.36 979.64h4.14v4.14h-4.14ZM385.5 996.21h4.14v4.14h-4.14ZM410.36 996.21h4.14v4.14h-4.14ZM389.64 1000.36h4.14v4.14h-4.14ZM406.21 1000.36h4.14v4.14h-4.14Z" fill-opacity="0.3"/><path d="M430.79 955.5 443.21 955.5 443.21 959.64 447.36 959.64 447.36 963.79 451.5 963.79 451.5 976.21 447.36 976.21 447.36 980.36 443.21 980.36 443.21 984.5 430.79 984.5 430.79 980.36 426.64 980.36 426.64 976.21 422.5 976.21 422.5 963.79 426.64 963.79 426.64 959.64 430.79 959.64Z"/><path d="M426.64 955.5h4.14v4.14h-4.14ZM443.21 955.5h4.14v4.14h-4.14ZM422.5 959.64h4.14v4.14h-4.14ZM447.36 959.64h4.14v4.14h-4.14ZM422.5 976.21h4.14v4.14h-4.14ZM447.36 976.21h4.14v4.14h-4.14ZM426.64 980.36h4.14v4.14h-4.14ZM443.21 980.36h4.14v4.14h-4.14Z" fill-opacity="0.3"/><path d="M397.79 988.5 410.21 988.5 410.21 992.64 414.36 992.64 414.36 996.79 418.5 996.79 418.5 1009.21 414.36 1009.21 414.36 1013.36 410.21 1013.36 410.21 1017.5 397.79 1017.5 397.79 1013.36 393.64 1013.36 393.64 1009.21 389.5 1009.21 389.5 996.79 393.64 996.79 393.64 992.64 397.79 992.64Z"/><path d="M393.64 988.5h4.14v4.14h-4.14ZM410.21 988.5h4.14v4.14h-4.14ZM389.5 992.64h4.14v4.14h-4.14ZM414.36 992.64h4.14v4.14h-4.14ZM389.5 1009.21h4.14v4.14h-4.14ZM414.36 1009.21h4.14v4.14h-4.14ZM393.64 1013.36h4.14v4.14h-4.14ZM410.21 1013.36h4.14v4.14h-4.14Z" fill-opacity="0.3"/><path d="M401.79 1020 414.21 1020 414.21 1024.14 418.36 1024.14 418.36 1028.29 422.5 1028.29 422.5 1040.71 418.36 1040.71 418.36 1044.86 414.21 1044.86 414.21 1049 401.79 1049 401.79 1044.86 397.64 1044.86 397.64 1040.71 393.5 1040.71 393.5 1028.29 397.64 1028.29 397.64 1024.14 401.79 1024.14Z"/><path d="M397.64 1020h4.14v4.14h-4.14ZM414.21 1020h4.14v4.14h-4.14ZM393.5 1024.14h4.14v4.14h-4.14ZM418.36 1024.14h4.14v4.14h-4.14ZM393.5 1040.71h4.14v4.14h-4.14ZM418.36 1040.71h4.14v4.14h-4.14ZM397.64 1044.86h4.14v4.14h-4.14ZM414.21 1044.86h4.14v4.14h-4.14Z" fill-opacity="0.3"/><path d="M437.79 955.5 450.21 955.5 450.21 959.64 454.36 959.64 454.36 963.79 458.5 963.79 458.5 976.21 454.36 976.21 454.36 980.36 450.21 980.36 450.21 984.5 437.79 984.5 437.79 980.36 433.64 980.36 433.64 976.21 429.5 976.21 429.5 963.79 433.64 963.79 433.64 959.64 437.79 959.64Z"/><path d="M433.64 955.5h4.14v4.14h-4.14ZM450.21 955.5h4.14v4.14h-4.14ZM429.5 959.64h4.14v4.14h-4.14ZM454.36 959.64h4.14v4.14h-4.14ZM429.5 976.21h4.14v4.14h-4.14ZM454.36 976.21h4.14v4.14h-4.14ZM433.64 980.36h4.14v4.14h-4.14ZM450.21 980.36h4.14v4.14h-4.14Z" fill-opacity="0.3"/></g>
<g font-family="Liberation Sans, sans-serif" font-size="69.5" fill="#000"><text x="250.7" y="1273.6" text-anchor="middle">0</text><text x="440" y="1273.6" text-anchor="middle">1</text><text x="627.3" y="1273.6" text-anchor="middle">2</text><text x="815" y="1273.6" text-anchor="middle">3</text><text x="1002.8" y="1273.6" text-anchor="middle">4</text><text x="1190.5" y="1273.6" text-anchor="middle">5</text><text x="1379.5" y="1273.6" text-anchor="middle">6</text><text x="176" y="1169.6" text-anchor="end">0</text><text x="176" y="990.5" text-anchor="end">1</text><text x="176" y="807.5" text-anchor="end">2</text><text x="176" y="628.4" text-anchor="end">3</text><text x="176" y="445.1" text-anchor="end">4</text><text x="176" y="261.7" text-anchor="end">5</text><text x="176" y="82.7" text-anchor="end">6</text></g>
<g font-family="Liberation Sans, sans-serif" fill="#000"><rect x="290.5" y="91.2" width="29.2" height="29.2" fill="#E70BAF"/><g fill="#FFC000"><path d="M298.89 191.3 311.31 191.3 311.31 195.44 315.46 195.44 315.46 199.59 319.6 199.59 319.6 212.01 315.46 212.01 315.46 216.16 311.31 216.16 311.31 220.3 298.89 220.3 298.89 216.16 294.74 216.16 294.74 212.01 290.6 212.01 290.6 199.59 294.74 199.59 294.74 195.44 298.89 195.44Z"/><path d="M294.74 191.3h4.14v4.14h-4.14ZM311.31 191.3h4.14v4.14h-4.14ZM290.6 195.44h4.14v4.14h-4.14ZM315.46 195.44h4.14v4.14h-4.14ZM290.6 212.01h4.14v4.14h-4.14ZM315.46 212.01h4.14v4.14h-4.14ZM294.74 216.16h4.14v4.14h-4.14ZM311.31 216.16h4.14v4.14h-4.14Z" fill-opacity="0.3"/></g><text transform="translate(369.6 128.8) scale(0.79 1)" x="-25.21" font-size="72.4">P</text><text transform="translate(411.15 128.8) scale(0.95 1)" x="-22.09" font-size="72.4">T</text><text transform="translate(440.2 128.8) scale(1.22 1)" x="-12.05" font-size="72.4">-</text><text transform="translate(463.55 128.8) scale(0.75 1)" x="-15.98" font-size="72.4">J</text><text transform="translate(498.7 128.8) scale(0.79 1)" x="-25.21" font-size="72.4">P</text><text transform="translate(538.5 128.8) scale(0.83 1)" x="-21.9" font-size="72.4">L</text><text transform="translate(565.5 128.8) scale(1.22 1)" x="-12.05" font-size="72.4">-</text><text transform="translate(590.6 128.8) scale(1.08 1)" x="-10.34" font-size="72.4">t</text><text transform="translate(628.2 128.8) scale(1 1)" x="-20.29" font-size="72.4">h</text><text transform="translate(667.9 128.8) scale(0.98 1)" x="-20.06" font-size="72.4">e</text><text transform="translate(703.3 128.8) scale(1.08 1)" x="-13.86" font-size="72.4">r</text><text transform="translate(746.95 128.8) scale(1.01 1)" x="-30.17" font-size="72.4">m</text><text transform="translate(795.05 128.8) scale(0.8 1)" x="-21.67" font-size="72.4">a</text><text transform="translate(828.35 128.8) scale(0.8 1)" x="-8.06" font-size="72.4">l</text><text transform="translate(381.8 233) scale(1.08 1)" x="-30.15" font-size="72.4">M</text><text transform="translate(442.35 233) scale(0.86 1)" x="-28.14" font-size="72.4">O</text><text transform="translate(494.45 233) scale(0.89 1)" x="-27.38" font-size="72.4">D</text><text transform="translate(540.25 233) scale(0.94 1)" x="-21.12" font-size="72.4">1</text><text transform="translate(582.05 233) scale(0.91 1)" x="-20.38" font-size="72.4">6</text></g>
<g font-family="Liberation Sans, sans-serif" fill="#000"><text transform="translate(344.4 1353.1) scale(0.84 1)" x="-27.4" font-size="71.3" font-weight="bold">R</text><text transform="translate(386.4 1353.1) scale(0.88 1)" x="-20" font-size="71.3" font-weight="bold">e</text><text transform="translate(440.15 1353.1) scale(1 1)" x="-31.84" font-size="71.3" font-weight="bold">m</text><text transform="translate(492.65 1353.1) scale(0.88 1)" x="-21.78" font-size="71.3" font-weight="bold">o</text><text transform="translate(527.85 1353.1) scale(0.99 1)" x="-11.87" font-size="71.3" font-weight="bold">t</text><text transform="translate(562.85 1353.1) scale(0.91 1)" x="-20" font-size="71.3" font-weight="bold">e</text><text transform="translate(617.05 1353.1) scale(0.75 1)" x="-19.62" font-size="71.3" font-weight="bold">s</text><text transform="translate(653.15 1353.1) scale(0.87 1)" x="-20" font-size="71.3" font-weight="bold">e</text><text transform="translate(696.75 1353.1) scale(0.99 1)" x="-21.92" font-size="71.3" font-weight="bold">n</text><text transform="translate(733.95 1353.1) scale(0.75 1)" x="-19.62" font-size="71.3" font-weight="bold">s</text><text transform="translate(759.1 1353.1) scale(1 1)" x="-9.87" font-size="71.3" font-weight="bold">i</text><text transform="translate(790.6 1353.1) scale(0.89 1)" x="-21.92" font-size="71.3" font-weight="bold">n</text><text transform="translate(829.85 1353.1) scale(0.95 1)" x="-20.85" font-size="71.3" font-weight="bold">g</text><text transform="translate(888.6 1353.1) scale(0.75 1)" x="-25.29" font-size="71.3" font-weight="bold" font-style="italic">E</text><text transform="translate(931.1 1353.1) scale(0.92 1)" x="-26.81" font-size="71.3" font-weight="bold" font-style="italic">T</text><text transform="translate(975.9 1353.1) scale(0.89 1)" x="-13.61" font-size="71.3" font-weight="bold">(</text><text transform="translate(1022.9 1353.1) scale(1.01 1)" x="-31.84" font-size="71.3" font-weight="bold">m</text><text transform="translate(1085.55 1353.1) scale(1.02 1)" x="-31.84" font-size="71.3" font-weight="bold">m</text><text transform="translate(1176.05 1353.1) scale(0.95 1)" x="-20.89" font-size="71.3" font-weight="bold">d</text><text transform="translate(1215.4 1353.1) scale(0.78 1)" x="-21.1" font-size="71.3" font-weight="bold">a</text><text transform="translate(1254.75 1353.1) scale(0.88 1)" x="-19.91" font-size="71.3" font-weight="bold">y</text><text transform="translate(1286.25 1353.1) scale(0.75 1)" x="-10.13" font-size="71.3" font-weight="bold">)</text><text transform="translate(92.2 922.5) rotate(-90) scale(1.01 1)" x="-33.65" font-size="71.3" font-weight="bold">W</text><text transform="translate(92.2 862) rotate(-90) scale(0.98 1)" x="-25.69" font-size="71.3" font-weight="bold">A</text><text transform="translate(92.2 815.5) rotate(-90) scale(0.95 1)" x="-21.79" font-size="71.3" font-weight="bold">T</text><text transform="translate(92.2 778) rotate(-90) scale(0.75 1)" x="-24.77" font-size="71.3" font-weight="bold">E</text><text transform="translate(92.2 731) rotate(-90) scale(1.03 1)" x="-25.73" font-size="71.3" font-weight="bold">N</text><text transform="translate(92.2 665.5) rotate(-90) scale(0.83 1)" x="-25.29" font-size="71.3" font-weight="bold" font-style="italic">E</text><text transform="translate(92.2 623) rotate(-90) scale(0.8 1)" x="-26.81" font-size="71.3" font-weight="bold" font-style="italic">T</text><text transform="translate(92.2 574.5) rotate(-90) scale(0.75 1)" x="-13.61" font-size="71.3" font-weight="bold">(</text><text transform="translate(92.2 529) rotate(-90) scale(1.01 1)" x="-31.84" font-size="71.3" font-weight="bold">m</text><text transform="translate(92.2 466) rotate(-90) scale(1.01 1)" x="-31.84" font-size="71.3" font-weight="bold">m</text><text transform="translate(92.2 376.5) rotate(-90) scale(0.95 1)" x="-20.89" font-size="71.3" font-weight="bold">d</text><text transform="translate(92.2 336.5) rotate(-90) scale(0.79 1)" x="-21.1" font-size="71.3" font-weight="bold">a</text><text transform="translate(92.2 297) rotate(-90) scale(0.85 1)" x="-19.91" font-size="71.3" font-weight="bold">y</text><text transform="translate(92.2 264) rotate(-90) scale(0.84 1)" x="-10.13" font-size="71.3" font-weight="bold">)</text><path d="M1119.8 1365L1127.6 1365L1152 1295.2L1144.2 1295.2Z"/><path d="M106.5 431.6L106.5 423.8L32.5 395.2L32.5 403Z"/></g>
</svg>
</body></html>
